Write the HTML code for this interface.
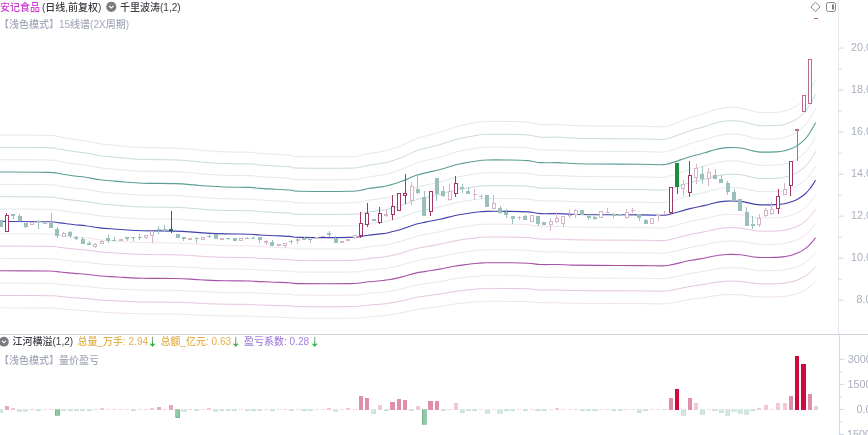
<!DOCTYPE html>
<html><head><meta charset="utf-8"><style>
html,body{margin:0;padding:0;background:#fff;width:868px;height:435px;overflow:hidden;position:relative}
.t{position:absolute;white-space:nowrap;font-family:"Liberation Sans","Noto Sans CJK SC",sans-serif;font-size:10px;line-height:1;font-weight:500}
.ar{position:absolute;white-space:nowrap;font-family:"Noto Sans CJK SC",sans-serif;font-weight:bold;font-size:11px;line-height:1;background:linear-gradient(#9c9ab2 0%,#8aa29a 35%,#2aa83c 62%);-webkit-background-clip:text;background-clip:text;color:transparent}
.ax{position:absolute;white-space:nowrap;font-family:"Liberation Sans",sans-serif;font-size:10.8px;color:#a9afbd;line-height:1}
</style></head><body>
<svg width="868" height="435" viewBox="0 0 868 435" style="position:absolute;left:0;top:0">
<defs><linearGradient id="ag" x1="0" y1="0" x2="0" y2="1"><stop offset="0" stop-color="#9a98b0"/><stop offset="1" stop-color="#2aa83c"/></linearGradient></defs>
<path d="M0.00,134.98 C8.10,135.05 38.60,135.05 48.60,135.39 C58.60,135.73 55.72,136.33 60.00,137.01 C64.28,137.69 70.02,138.81 74.30,139.44 C78.58,140.07 81.42,140.07 85.70,140.79 C89.98,141.51 95.23,143.02 100.00,143.76 C104.77,144.50 110.30,144.84 114.30,145.25 C118.30,145.65 119.33,145.81 124.00,146.19 C128.67,146.57 133.78,147.22 142.30,147.54 C150.82,147.85 166.53,147.76 175.10,148.08 C183.67,148.39 188.45,148.98 193.70,149.43 C198.95,149.88 201.38,150.37 206.60,150.78 C211.82,151.18 217.77,151.61 225.00,151.86 C232.23,152.11 244.17,152.02 250.00,152.26 C255.83,152.51 255.83,153.01 260.00,153.34 C264.17,153.68 270.00,153.97 275.00,154.29 C280.00,154.60 285.83,154.85 290.00,155.23 C294.17,155.62 290.00,156.36 300.00,156.58 C310.00,156.81 339.77,156.81 350.00,156.58 C360.23,156.36 358.30,155.73 361.40,155.23 C364.50,154.74 365.02,154.25 368.60,153.62 C372.18,152.99 379.57,152.04 382.90,151.45 C386.23,150.87 385.52,151.07 388.60,150.10 C391.68,149.14 396.88,147.52 401.40,145.65 C405.92,143.78 411.65,140.52 415.70,138.90 C419.75,137.28 421.65,137.05 425.70,135.93 C429.75,134.80 435.23,133.59 440.00,132.15 C444.77,130.71 450.30,128.48 454.30,127.29 C458.30,126.10 460.05,125.83 464.00,125.00 C467.95,124.16 474.28,122.88 478.00,122.29 C481.72,121.71 481.35,121.62 486.30,121.48 C491.25,121.35 500.80,121.37 507.70,121.48 C514.60,121.60 522.22,121.66 527.70,122.16 C533.18,122.66 535.60,124.07 540.60,124.45 C545.60,124.84 552.47,124.30 557.70,124.45 C562.93,124.61 565.62,125.15 572.00,125.40 C578.38,125.65 584.67,125.80 596.00,125.94 C607.33,126.07 629.00,126.07 640.00,126.21 C651.00,126.34 657.00,126.91 662.00,126.75 C667.00,126.59 665.33,126.77 670.00,125.26 C674.67,123.76 684.17,119.69 690.00,117.71 C695.83,115.73 701.00,114.64 705.00,113.38 C709.00,112.12 710.43,111.11 714.00,110.14 C717.57,109.18 721.95,107.94 726.40,107.58 C730.85,107.22 735.45,107.20 740.70,107.99 C745.95,108.77 751.95,111.58 757.90,112.30 C763.85,113.02 771.88,112.53 776.40,112.30 C780.92,112.08 782.40,111.63 785.00,110.95 C787.60,110.28 789.83,109.29 792.00,108.25 C794.17,107.22 795.83,106.45 798.00,104.74 C800.17,103.03 803.00,100.36 805.00,97.99 C807.00,95.63 808.23,93.65 810.00,90.57 C811.77,87.49 814.67,81.35 815.60,79.50" fill="none" stroke="#dfeaec" stroke-width="1"/>
<path d="M0.00,147.33 C8.10,147.39 38.60,147.39 48.60,147.72 C58.60,148.05 55.72,148.63 60.00,149.28 C64.28,149.93 70.02,151.01 74.30,151.62 C78.58,152.23 81.42,152.23 85.70,152.92 C89.98,153.61 95.23,155.06 100.00,155.78 C104.77,156.50 110.30,156.82 114.30,157.21 C118.30,157.60 119.33,157.75 124.00,158.12 C128.67,158.49 133.78,159.12 142.30,159.42 C150.82,159.72 166.53,159.64 175.10,159.94 C183.67,160.24 188.45,160.81 193.70,161.24 C198.95,161.67 201.38,162.15 206.60,162.54 C211.82,162.93 217.77,163.34 225.00,163.58 C232.23,163.82 244.17,163.73 250.00,163.97 C255.83,164.21 255.83,164.68 260.00,165.01 C264.17,165.33 270.00,165.62 275.00,165.92 C280.00,166.22 285.83,166.46 290.00,166.83 C294.17,167.20 290.00,167.91 300.00,168.13 C310.00,168.35 339.77,168.35 350.00,168.13 C360.23,167.91 358.30,167.31 361.40,166.83 C364.50,166.35 365.02,165.88 368.60,165.27 C372.18,164.66 379.57,163.75 382.90,163.19 C386.23,162.63 385.52,162.82 388.60,161.89 C391.68,160.96 396.88,159.40 401.40,157.60 C405.92,155.80 411.65,152.66 415.70,151.10 C419.75,149.54 421.65,149.32 425.70,148.24 C429.75,147.16 435.23,145.99 440.00,144.60 C444.77,143.21 450.30,141.07 454.30,139.92 C458.30,138.77 460.05,138.51 464.00,137.71 C467.95,136.91 474.28,135.67 478.00,135.11 C481.72,134.55 481.35,134.46 486.30,134.33 C491.25,134.20 500.80,134.22 507.70,134.33 C514.60,134.44 522.22,134.50 527.70,134.98 C533.18,135.46 535.60,136.82 540.60,137.19 C545.60,137.56 552.47,137.04 557.70,137.19 C562.93,137.34 565.62,137.86 572.00,138.10 C578.38,138.34 584.67,138.49 596.00,138.62 C607.33,138.75 629.00,138.75 640.00,138.88 C651.00,139.01 657.00,139.55 662.00,139.40 C667.00,139.25 665.33,139.42 670.00,137.97 C674.67,136.52 684.17,132.60 690.00,130.69 C695.83,128.78 701.00,127.74 705.00,126.53 C709.00,125.32 710.43,124.34 714.00,123.41 C717.57,122.48 721.95,121.29 726.40,120.94 C730.85,120.59 735.45,120.57 740.70,121.33 C745.95,122.09 751.95,124.80 757.90,125.49 C763.85,126.18 771.88,125.71 776.40,125.49 C780.92,125.27 782.40,124.84 785.00,124.19 C787.60,123.54 789.83,122.59 792.00,121.59 C794.17,120.59 795.83,119.86 798.00,118.21 C800.17,116.56 803.00,113.98 805.00,111.71 C807.00,109.43 808.23,107.53 810.00,104.56 C811.77,101.59 814.67,95.68 815.60,93.90" fill="none" stroke="#c8d9dc" stroke-width="1"/>
<path d="M0.00,159.68 C8.10,159.74 38.60,159.74 48.60,160.05 C58.60,160.36 55.72,160.93 60.00,161.55 C64.28,162.18 70.02,163.22 74.30,163.80 C78.58,164.38 81.42,164.38 85.70,165.05 C89.98,165.72 95.23,167.11 100.00,167.80 C104.77,168.49 110.30,168.80 114.30,169.18 C118.30,169.55 119.33,169.70 124.00,170.05 C128.67,170.40 133.78,171.01 142.30,171.30 C150.82,171.59 166.53,171.51 175.10,171.80 C183.67,172.09 188.45,172.63 193.70,173.05 C198.95,173.47 201.38,173.92 206.60,174.30 C211.82,174.67 217.77,175.07 225.00,175.30 C232.23,175.53 244.17,175.45 250.00,175.67 C255.83,175.90 255.83,176.36 260.00,176.67 C264.17,176.99 270.00,177.26 275.00,177.55 C280.00,177.84 285.83,178.07 290.00,178.43 C294.17,178.78 290.00,179.47 300.00,179.68 C310.00,179.88 339.77,179.88 350.00,179.68 C360.23,179.47 358.30,178.88 361.40,178.43 C364.50,177.97 365.02,177.51 368.60,176.93 C372.18,176.34 379.57,175.47 382.90,174.92 C386.23,174.38 385.52,174.57 388.60,173.68 C391.68,172.78 396.88,171.28 401.40,169.55 C405.92,167.82 411.65,164.80 415.70,163.30 C419.75,161.80 421.65,161.59 425.70,160.55 C429.75,159.51 435.23,158.38 440.00,157.05 C444.77,155.72 450.30,153.65 454.30,152.55 C458.30,151.45 460.05,151.20 464.00,150.42 C467.95,149.65 474.28,148.47 478.00,147.92 C481.72,147.38 481.35,147.30 486.30,147.17 C491.25,147.05 500.80,147.07 507.70,147.17 C514.60,147.28 522.22,147.34 527.70,147.80 C533.18,148.26 535.60,149.57 540.60,149.93 C545.60,150.28 552.47,149.78 557.70,149.93 C562.93,150.07 565.62,150.57 572.00,150.80 C578.38,151.03 584.67,151.17 596.00,151.30 C607.33,151.42 629.00,151.43 640.00,151.55 C651.00,151.68 657.00,152.20 662.00,152.05 C667.00,151.90 665.33,152.07 670.00,150.67 C674.67,149.28 684.17,145.51 690.00,143.68 C695.83,141.84 701.00,140.84 705.00,139.68 C709.00,138.51 710.43,137.57 714.00,136.68 C717.57,135.78 721.95,134.63 726.40,134.30 C730.85,133.97 735.45,133.95 740.70,134.68 C745.95,135.40 751.95,138.01 757.90,138.67 C763.85,139.34 771.88,138.88 776.40,138.67 C780.92,138.47 782.40,138.05 785.00,137.42 C787.60,136.80 789.83,135.88 792.00,134.92 C794.17,133.97 795.83,133.26 798.00,131.68 C800.17,130.09 803.00,127.61 805.00,125.42 C807.00,123.24 808.23,121.40 810.00,118.55 C811.77,115.70 814.67,110.01 815.60,108.30" fill="none" stroke="#dfeaec" stroke-width="1"/>
<path d="M0.00,184.37 C8.10,184.42 38.60,184.42 48.60,184.71 C58.60,185.00 55.72,185.52 60.00,186.09 C64.28,186.66 70.02,187.62 74.30,188.16 C78.58,188.70 81.42,188.70 85.70,189.31 C89.98,189.92 95.23,191.21 100.00,191.84 C104.77,192.47 110.30,192.76 114.30,193.11 C118.30,193.45 119.33,193.58 124.00,193.91 C128.67,194.24 133.78,194.79 142.30,195.06 C150.82,195.33 166.53,195.25 175.10,195.52 C183.67,195.79 188.45,196.29 193.70,196.67 C198.95,197.05 201.38,197.47 206.60,197.82 C211.82,198.16 217.77,198.53 225.00,198.74 C232.23,198.95 244.17,198.87 250.00,199.08 C255.83,199.30 255.83,199.72 260.00,200.00 C264.17,200.29 270.00,200.54 275.00,200.81 C280.00,201.08 285.83,201.29 290.00,201.62 C294.17,201.94 290.00,202.57 300.00,202.77 C310.00,202.96 339.77,202.96 350.00,202.77 C360.23,202.57 358.30,202.04 361.40,201.62 C364.50,201.19 365.02,200.77 368.60,200.24 C372.18,199.70 379.57,198.89 382.90,198.40 C386.23,197.90 385.52,198.07 388.60,197.25 C391.68,196.42 396.88,195.04 401.40,193.45 C405.92,191.86 411.65,189.08 415.70,187.70 C419.75,186.32 421.65,186.13 425.70,185.17 C429.75,184.21 435.23,183.18 440.00,181.95 C444.77,180.72 450.30,178.83 454.30,177.81 C458.30,176.79 460.05,176.56 464.00,175.86 C467.95,175.15 474.28,174.05 478.00,173.56 C481.72,173.06 481.35,172.98 486.30,172.87 C491.25,172.75 500.80,172.77 507.70,172.87 C514.60,172.96 522.22,173.02 527.70,173.44 C533.18,173.86 535.60,175.07 540.60,175.40 C545.60,175.72 552.47,175.26 557.70,175.40 C562.93,175.53 565.62,175.99 572.00,176.20 C578.38,176.41 584.67,176.55 596.00,176.66 C607.33,176.77 629.00,176.78 640.00,176.89 C651.00,177.01 657.00,177.48 662.00,177.35 C667.00,177.22 665.33,177.37 670.00,176.08 C674.67,174.80 684.17,171.33 690.00,169.65 C695.83,167.96 701.00,167.04 705.00,165.97 C709.00,164.89 710.43,164.03 714.00,163.21 C717.57,162.38 721.95,161.33 726.40,161.02 C730.85,160.71 735.45,160.69 740.70,161.37 C745.95,162.04 751.95,164.43 757.90,165.04 C763.85,165.66 771.88,165.24 776.40,165.04 C780.92,164.85 782.40,164.47 785.00,163.90 C787.60,163.32 789.83,162.48 792.00,161.59 C794.17,160.71 795.83,160.06 798.00,158.61 C800.17,157.15 803.00,154.87 805.00,152.86 C807.00,150.84 808.23,149.16 810.00,146.53 C811.77,143.90 814.67,138.67 815.60,137.10" fill="none" stroke="#dfeaec" stroke-width="1"/>
<path d="M0.00,196.71 C8.10,196.76 38.60,196.76 48.60,197.04 C58.60,197.31 55.72,197.81 60.00,198.36 C64.28,198.91 70.02,199.83 74.30,200.34 C78.58,200.85 81.42,200.85 85.70,201.44 C89.98,202.03 95.23,203.25 100.00,203.86 C104.77,204.47 110.30,204.74 114.30,205.07 C118.30,205.40 119.33,205.53 124.00,205.84 C128.67,206.15 133.78,206.68 142.30,206.94 C150.82,207.20 166.53,207.12 175.10,207.38 C183.67,207.64 188.45,208.11 193.70,208.48 C198.95,208.85 201.38,209.25 206.60,209.58 C211.82,209.91 217.77,210.26 225.00,210.46 C232.23,210.66 244.17,210.59 250.00,210.79 C255.83,210.99 255.83,211.39 260.00,211.67 C264.17,211.94 270.00,212.18 275.00,212.44 C280.00,212.70 285.83,212.90 290.00,213.21 C294.17,213.52 290.00,214.13 300.00,214.31 C310.00,214.49 339.77,214.49 350.00,214.31 C360.23,214.13 358.30,213.61 361.40,213.21 C364.50,212.81 365.02,212.40 368.60,211.89 C372.18,211.38 379.57,210.61 382.90,210.13 C386.23,209.65 385.52,209.82 388.60,209.03 C391.68,208.24 396.88,206.92 401.40,205.40 C405.92,203.88 411.65,201.22 415.70,199.90 C419.75,198.58 421.65,198.40 425.70,197.48 C429.75,196.56 435.23,195.57 440.00,194.40 C444.77,193.23 450.30,191.41 454.30,190.44 C458.30,189.47 460.05,189.25 464.00,188.57 C467.95,187.89 474.28,186.85 478.00,186.37 C481.72,185.89 481.35,185.82 486.30,185.71 C491.25,185.60 500.80,185.62 507.70,185.71 C514.60,185.80 522.22,185.86 527.70,186.26 C533.18,186.66 535.60,187.82 540.60,188.13 C545.60,188.44 552.47,188.00 557.70,188.13 C562.93,188.26 565.62,188.70 572.00,188.90 C578.38,189.10 584.67,189.23 596.00,189.34 C607.33,189.45 629.00,189.45 640.00,189.56 C651.00,189.67 657.00,190.13 662.00,190.00 C667.00,189.87 665.33,190.02 670.00,188.79 C674.67,187.56 684.17,184.24 690.00,182.63 C695.83,181.02 701.00,180.14 705.00,179.11 C709.00,178.08 710.43,177.26 714.00,176.47 C717.57,175.68 721.95,174.67 726.40,174.38 C730.85,174.09 735.45,174.07 740.70,174.71 C745.95,175.35 751.95,177.64 757.90,178.23 C763.85,178.82 771.88,178.41 776.40,178.23 C780.92,178.05 782.40,177.68 785.00,177.13 C787.60,176.58 789.83,175.77 792.00,174.93 C794.17,174.09 795.83,173.46 798.00,172.07 C800.17,170.68 803.00,168.49 805.00,166.57 C807.00,164.64 808.23,163.03 810.00,160.52 C811.77,158.01 814.67,153.00 815.60,151.50" fill="none" stroke="#c8d9dc" stroke-width="1"/>
<path d="M0.00,209.05 C8.10,209.11 38.60,209.11 48.60,209.37 C58.60,209.63 55.72,210.10 60.00,210.63 C64.28,211.16 70.02,212.03 74.30,212.52 C78.58,213.01 81.42,213.01 85.70,213.57 C89.98,214.13 95.23,215.30 100.00,215.88 C104.77,216.46 110.30,216.72 114.30,217.03 C118.30,217.35 119.33,217.47 124.00,217.77 C128.67,218.07 133.78,218.57 142.30,218.82 C150.82,219.06 166.53,219.00 175.10,219.24 C183.67,219.49 188.45,219.94 193.70,220.29 C198.95,220.64 201.38,221.02 206.60,221.34 C211.82,221.65 217.77,221.99 225.00,222.18 C232.23,222.37 244.17,222.30 250.00,222.49 C255.83,222.69 255.83,223.07 260.00,223.33 C264.17,223.60 270.00,223.82 275.00,224.07 C280.00,224.31 285.83,224.51 290.00,224.80 C294.17,225.10 290.00,225.68 300.00,225.85 C310.00,226.03 339.77,226.03 350.00,225.85 C360.23,225.68 358.30,225.19 361.40,224.80 C364.50,224.42 365.02,224.03 368.60,223.54 C372.18,223.05 379.57,222.32 382.90,221.86 C386.23,221.41 385.52,221.57 388.60,220.81 C391.68,220.06 396.88,218.80 401.40,217.35 C405.92,215.90 411.65,213.36 415.70,212.10 C419.75,210.84 421.65,210.66 425.70,209.79 C429.75,208.91 435.23,207.97 440.00,206.85 C444.77,205.73 450.30,204.00 454.30,203.07 C458.30,202.14 460.05,201.93 464.00,201.28 C467.95,200.64 474.28,199.64 478.00,199.18 C481.72,198.73 481.35,198.66 486.30,198.55 C491.25,198.45 500.80,198.47 507.70,198.55 C514.60,198.64 522.22,198.69 527.70,199.08 C533.18,199.47 535.60,200.57 540.60,200.87 C545.60,201.16 552.47,200.74 557.70,200.87 C562.93,200.99 565.62,201.41 572.00,201.60 C578.38,201.79 584.67,201.91 596.00,202.02 C607.33,202.12 629.00,202.12 640.00,202.23 C651.00,202.33 657.00,202.77 662.00,202.65 C667.00,202.53 665.33,202.67 670.00,201.49 C674.67,200.32 684.17,197.16 690.00,195.62 C695.83,194.08 701.00,193.23 705.00,192.25 C709.00,191.27 710.43,190.49 714.00,189.73 C717.57,188.98 721.95,188.02 726.40,187.74 C730.85,187.46 735.45,187.44 740.70,188.06 C745.95,188.67 751.95,190.85 757.90,191.41 C763.85,191.97 771.88,191.59 776.40,191.41 C780.92,191.24 782.40,190.89 785.00,190.36 C787.60,189.84 789.83,189.07 792.00,188.26 C794.17,187.46 795.83,186.86 798.00,185.53 C800.17,184.21 803.00,182.12 805.00,180.28 C807.00,178.45 808.23,176.91 810.00,174.51 C811.77,172.11 814.67,167.34 815.60,165.90" fill="none" stroke="#dfeaec" stroke-width="1"/>
<path d="M0.00,233.75 C8.10,233.79 38.60,233.79 48.60,234.03 C58.60,234.27 55.72,234.70 60.00,235.17 C64.28,235.65 70.02,236.44 74.30,236.88 C78.58,237.32 81.42,237.32 85.70,237.83 C89.98,238.34 95.23,239.40 100.00,239.92 C104.77,240.44 110.30,240.68 114.30,240.97 C118.30,241.25 119.33,241.36 124.00,241.63 C128.67,241.90 133.78,242.36 142.30,242.58 C150.82,242.80 166.53,242.74 175.10,242.96 C183.67,243.18 188.45,243.59 193.70,243.91 C198.95,244.23 201.38,244.58 206.60,244.86 C211.82,245.15 217.77,245.45 225.00,245.62 C232.23,245.79 244.17,245.73 250.00,245.91 C255.83,246.08 255.83,246.43 260.00,246.66 C264.17,246.90 270.00,247.11 275.00,247.33 C280.00,247.55 285.83,247.73 290.00,248.00 C294.17,248.26 290.00,248.79 300.00,248.94 C310.00,249.10 339.77,249.10 350.00,248.94 C360.23,248.79 358.30,248.34 361.40,248.00 C364.50,247.65 365.02,247.30 368.60,246.86 C372.18,246.41 379.57,245.75 382.90,245.34 C386.23,244.92 385.52,245.07 388.60,244.38 C391.68,243.70 396.88,242.56 401.40,241.25 C405.92,239.94 411.65,237.64 415.70,236.50 C419.75,235.36 421.65,235.20 425.70,234.41 C429.75,233.62 435.23,232.76 440.00,231.75 C444.77,230.74 450.30,229.17 454.30,228.33 C458.30,227.49 460.05,227.30 464.00,226.72 C467.95,226.13 474.28,225.23 478.00,224.81 C481.72,224.40 481.35,224.34 486.30,224.25 C491.25,224.15 500.80,224.17 507.70,224.25 C514.60,224.32 522.22,224.37 527.70,224.72 C533.18,225.07 535.60,226.07 540.60,226.33 C545.60,226.60 552.47,226.22 557.70,226.33 C562.93,226.45 565.62,226.83 572.00,227.00 C578.38,227.17 584.67,227.29 596.00,227.38 C607.33,227.48 629.00,227.48 640.00,227.57 C651.00,227.67 657.00,228.06 662.00,227.95 C667.00,227.84 665.33,227.97 670.00,226.90 C674.67,225.84 684.17,222.98 690.00,221.59 C695.83,220.19 701.00,219.43 705.00,218.54 C709.00,217.66 710.43,216.95 714.00,216.27 C717.57,215.58 721.95,214.71 726.40,214.46 C730.85,214.21 735.45,214.19 740.70,214.75 C745.95,215.30 751.95,217.28 757.90,217.78 C763.85,218.29 771.88,217.94 776.40,217.78 C780.92,217.63 782.40,217.31 785.00,216.84 C787.60,216.36 789.83,215.66 792.00,214.94 C794.17,214.21 795.83,213.67 798.00,212.47 C800.17,211.26 803.00,209.38 805.00,207.72 C807.00,206.05 808.23,204.66 810.00,202.49 C811.77,200.32 814.67,196.00 815.60,194.70" fill="none" stroke="#f1e2ef" stroke-width="1"/>
<path d="M0.00,246.09 C8.10,246.13 38.60,246.14 48.60,246.36 C58.60,246.59 55.72,246.99 60.00,247.44 C64.28,247.89 70.02,248.64 74.30,249.06 C78.58,249.48 81.42,249.48 85.70,249.96 C89.98,250.44 95.23,251.45 100.00,251.94 C104.77,252.44 110.30,252.66 114.30,252.93 C118.30,253.20 119.33,253.30 124.00,253.56 C128.67,253.81 133.78,254.25 142.30,254.46 C150.82,254.67 166.53,254.61 175.10,254.82 C183.67,255.03 188.45,255.42 193.70,255.72 C198.95,256.02 201.38,256.35 206.60,256.62 C211.82,256.89 217.77,257.18 225.00,257.34 C232.23,257.50 244.17,257.44 250.00,257.61 C255.83,257.77 255.83,258.10 260.00,258.33 C264.17,258.56 270.00,258.75 275.00,258.96 C280.00,259.17 285.83,259.34 290.00,259.59 C294.17,259.85 290.00,260.34 300.00,260.49 C310.00,260.64 339.77,260.64 350.00,260.49 C360.23,260.34 358.30,259.92 361.40,259.59 C364.50,259.26 365.02,258.93 368.60,258.51 C372.18,258.09 379.57,257.46 382.90,257.07 C386.23,256.68 385.52,256.81 388.60,256.17 C391.68,255.53 396.88,254.44 401.40,253.20 C405.92,251.95 411.65,249.78 415.70,248.70 C419.75,247.62 421.65,247.47 425.70,246.72 C429.75,245.97 435.23,245.16 440.00,244.20 C444.77,243.24 450.30,241.75 454.30,240.96 C458.30,240.16 460.05,239.98 464.00,239.43 C467.95,238.87 474.28,238.02 478.00,237.63 C481.72,237.24 481.35,237.18 486.30,237.09 C491.25,237.00 500.80,237.02 507.70,237.09 C514.60,237.16 522.22,237.21 527.70,237.54 C533.18,237.87 535.60,238.81 540.60,239.07 C545.60,239.32 552.47,238.96 557.70,239.07 C562.93,239.18 565.62,239.54 572.00,239.70 C578.38,239.87 584.67,239.97 596.00,240.06 C607.33,240.15 629.00,240.15 640.00,240.24 C651.00,240.33 657.00,240.71 662.00,240.60 C667.00,240.50 665.33,240.61 670.00,239.61 C674.67,238.60 684.17,235.89 690.00,234.57 C695.83,233.25 701.00,232.53 705.00,231.69 C709.00,230.85 710.43,230.18 714.00,229.53 C717.57,228.88 721.95,228.06 726.40,227.82 C730.85,227.58 735.45,227.57 740.70,228.09 C745.95,228.62 751.95,230.49 757.90,230.97 C763.85,231.45 771.88,231.12 776.40,230.97 C780.92,230.82 782.40,230.52 785.00,230.07 C787.60,229.62 789.83,228.96 792.00,228.27 C794.17,227.58 795.83,227.07 798.00,225.93 C800.17,224.79 803.00,223.00 805.00,221.43 C807.00,219.86 808.23,218.53 810.00,216.48 C811.77,214.42 814.67,210.33 815.60,209.10" fill="none" stroke="#e6c4e0" stroke-width="1"/>
<path d="M0.00,258.44 C8.10,258.48 38.60,258.48 48.60,258.69 C58.60,258.90 55.72,259.29 60.00,259.71 C64.28,260.14 70.02,260.84 74.30,261.24 C78.58,261.64 81.42,261.64 85.70,262.09 C89.98,262.54 95.23,263.49 100.00,263.96 C104.77,264.43 110.30,264.64 114.30,264.90 C118.30,265.15 119.33,265.25 124.00,265.49 C128.67,265.73 133.78,266.14 142.30,266.34 C150.82,266.54 166.53,266.48 175.10,266.68 C183.67,266.88 188.45,267.25 193.70,267.53 C198.95,267.81 201.38,268.12 206.60,268.38 C211.82,268.63 217.77,268.90 225.00,269.06 C232.23,269.22 244.17,269.16 250.00,269.31 C255.83,269.47 255.83,269.78 260.00,270.00 C264.17,270.21 270.00,270.39 275.00,270.59 C280.00,270.79 285.83,270.94 290.00,271.19 C294.17,271.43 290.00,271.89 300.00,272.04 C310.00,272.18 339.77,272.18 350.00,272.04 C360.23,271.89 358.30,271.50 361.40,271.19 C364.50,270.87 365.02,270.56 368.60,270.17 C372.18,269.77 379.57,269.17 382.90,268.81 C386.23,268.44 385.52,268.56 388.60,267.96 C391.68,267.35 396.88,266.33 401.40,265.15 C405.92,263.97 411.65,261.92 415.70,260.90 C419.75,259.88 421.65,259.74 425.70,259.03 C429.75,258.32 435.23,257.56 440.00,256.65 C444.77,255.74 450.30,254.34 454.30,253.59 C458.30,252.84 460.05,252.67 464.00,252.14 C467.95,251.62 474.28,250.81 478.00,250.44 C481.72,250.08 481.35,250.02 486.30,249.94 C491.25,249.85 500.80,249.86 507.70,249.94 C514.60,250.01 522.22,250.05 527.70,250.36 C533.18,250.67 535.60,251.56 540.60,251.80 C545.60,252.05 552.47,251.71 557.70,251.80 C562.93,251.90 565.62,252.24 572.00,252.40 C578.38,252.56 584.67,252.65 596.00,252.74 C607.33,252.82 629.00,252.82 640.00,252.91 C651.00,253.00 657.00,253.35 662.00,253.25 C667.00,253.15 665.33,253.26 670.00,252.31 C674.67,251.37 684.17,248.80 690.00,247.56 C695.83,246.31 701.00,245.63 705.00,244.83 C709.00,244.04 710.43,243.40 714.00,242.79 C717.57,242.19 721.95,241.41 726.40,241.18 C730.85,240.95 735.45,240.94 740.70,241.44 C745.95,241.93 751.95,243.70 757.90,244.15 C763.85,244.61 771.88,244.30 776.40,244.15 C780.92,244.01 782.40,243.73 785.00,243.30 C787.60,242.88 789.83,242.26 792.00,241.60 C794.17,240.95 795.83,240.47 798.00,239.40 C800.17,238.32 803.00,236.63 805.00,235.14 C807.00,233.66 808.23,232.41 810.00,230.47 C811.77,228.53 814.67,224.66 815.60,223.50" fill="none" stroke="#f1e2ef" stroke-width="1"/>
<path d="M0.00,283.12 C8.10,283.16 38.60,283.16 48.60,283.35 C58.60,283.54 55.72,283.88 60.00,284.25 C64.28,284.62 70.02,285.25 74.30,285.60 C78.58,285.95 81.42,285.95 85.70,286.35 C89.98,286.75 95.23,287.59 100.00,288.00 C104.77,288.41 110.30,288.60 114.30,288.83 C118.30,289.05 119.33,289.14 124.00,289.35 C128.67,289.56 133.78,289.93 142.30,290.10 C150.82,290.28 166.53,290.23 175.10,290.40 C183.67,290.58 188.45,290.90 193.70,291.15 C198.95,291.40 201.38,291.68 206.60,291.90 C211.82,292.13 217.77,292.36 225.00,292.50 C232.23,292.64 244.17,292.59 250.00,292.73 C255.83,292.86 255.83,293.14 260.00,293.32 C264.17,293.51 270.00,293.68 275.00,293.85 C280.00,294.03 285.83,294.16 290.00,294.38 C294.17,294.59 290.00,295.00 300.00,295.12 C310.00,295.25 339.77,295.25 350.00,295.12 C360.23,295.00 358.30,294.65 361.40,294.38 C364.50,294.10 365.02,293.83 368.60,293.48 C372.18,293.12 379.57,292.60 382.90,292.28 C386.23,291.95 385.52,292.06 388.60,291.53 C391.68,290.99 396.88,290.09 401.40,289.05 C405.92,288.01 411.65,286.20 415.70,285.30 C419.75,284.40 421.65,284.27 425.70,283.65 C429.75,283.02 435.23,282.35 440.00,281.55 C444.77,280.75 450.30,279.51 454.30,278.85 C458.30,278.19 460.05,278.04 464.00,277.58 C467.95,277.11 474.28,276.40 478.00,276.08 C481.72,275.75 481.35,275.70 486.30,275.63 C491.25,275.55 500.80,275.56 507.70,275.63 C514.60,275.69 522.22,275.73 527.70,276.00 C533.18,276.27 535.60,277.06 540.60,277.27 C545.60,277.49 552.47,277.19 557.70,277.27 C562.93,277.36 565.62,277.66 572.00,277.80 C578.38,277.94 584.67,278.03 596.00,278.10 C607.33,278.18 629.00,278.18 640.00,278.25 C651.00,278.33 657.00,278.64 662.00,278.55 C667.00,278.46 665.33,278.56 670.00,277.72 C674.67,276.89 684.17,274.62 690.00,273.53 C695.83,272.43 701.00,271.82 705.00,271.12 C709.00,270.43 710.43,269.86 714.00,269.33 C717.57,268.79 721.95,268.10 726.40,267.90 C730.85,267.70 735.45,267.69 740.70,268.13 C745.95,268.56 751.95,270.13 757.90,270.53 C763.85,270.93 771.88,270.65 776.40,270.53 C780.92,270.40 782.40,270.15 785.00,269.78 C787.60,269.40 789.83,268.85 792.00,268.27 C794.17,267.70 795.83,267.28 798.00,266.33 C800.17,265.38 803.00,263.89 805.00,262.57 C807.00,261.26 808.23,260.16 810.00,258.45 C811.77,256.74 814.67,253.33 815.60,252.30" fill="none" stroke="#f1e2ef" stroke-width="1"/>
<path d="M0.00,295.47 C8.10,295.50 38.60,295.50 48.60,295.68 C58.60,295.86 55.72,296.17 60.00,296.52 C64.28,296.87 70.02,297.45 74.30,297.78 C78.58,298.11 81.42,298.11 85.70,298.48 C89.98,298.85 95.23,299.64 100.00,300.02 C104.77,300.41 110.30,300.58 114.30,300.79 C118.30,301.00 119.33,301.08 124.00,301.28 C128.67,301.48 133.78,301.82 142.30,301.98 C150.82,302.14 166.53,302.10 175.10,302.26 C183.67,302.42 188.45,302.73 193.70,302.96 C198.95,303.19 201.38,303.45 206.60,303.66 C211.82,303.87 217.77,304.09 225.00,304.22 C232.23,304.35 244.17,304.30 250.00,304.43 C255.83,304.56 255.83,304.82 260.00,304.99 C264.17,305.17 270.00,305.32 275.00,305.48 C280.00,305.64 285.83,305.77 290.00,305.97 C294.17,306.17 290.00,306.55 300.00,306.67 C310.00,306.79 339.77,306.79 350.00,306.67 C360.23,306.55 358.30,306.23 361.40,305.97 C364.50,305.71 365.02,305.46 368.60,305.13 C372.18,304.80 379.57,304.31 382.90,304.01 C386.23,303.71 385.52,303.81 388.60,303.31 C391.68,302.81 396.88,301.97 401.40,301.00 C405.92,300.03 411.65,298.34 415.70,297.50 C419.75,296.66 421.65,296.54 425.70,295.96 C429.75,295.38 435.23,294.75 440.00,294.00 C444.77,293.25 450.30,292.10 454.30,291.48 C458.30,290.86 460.05,290.72 464.00,290.29 C467.95,289.86 474.28,289.19 478.00,288.89 C481.72,288.59 481.35,288.54 486.30,288.47 C491.25,288.40 500.80,288.41 507.70,288.47 C514.60,288.53 522.22,288.56 527.70,288.82 C533.18,289.08 535.60,289.81 540.60,290.01 C545.60,290.21 552.47,289.93 557.70,290.01 C562.93,290.09 565.62,290.37 572.00,290.50 C578.38,290.63 584.67,290.71 596.00,290.78 C607.33,290.85 629.00,290.85 640.00,290.92 C651.00,290.99 657.00,291.28 662.00,291.20 C667.00,291.12 665.33,291.21 670.00,290.43 C674.67,289.65 684.17,287.54 690.00,286.51 C695.83,285.48 701.00,284.92 705.00,284.27 C709.00,283.62 710.43,283.09 714.00,282.59 C717.57,282.09 721.95,281.45 726.40,281.26 C730.85,281.07 735.45,281.06 740.70,281.47 C745.95,281.88 751.95,283.34 757.90,283.71 C763.85,284.08 771.88,283.83 776.40,283.71 C780.92,283.59 782.40,283.36 785.00,283.01 C787.60,282.66 789.83,282.15 792.00,281.61 C794.17,281.07 795.83,280.68 798.00,279.79 C800.17,278.90 803.00,277.52 805.00,276.29 C807.00,275.06 808.23,274.04 810.00,272.44 C811.77,270.84 814.67,267.66 815.60,266.70" fill="none" stroke="#e6c4e0" stroke-width="1"/>
<path d="M0.00,307.82 C8.10,307.85 38.60,307.85 48.60,308.01 C58.60,308.17 55.72,308.47 60.00,308.79 C64.28,309.12 70.02,309.66 74.30,309.96 C78.58,310.26 81.42,310.26 85.70,310.61 C89.98,310.96 95.23,311.68 100.00,312.04 C104.77,312.40 110.30,312.56 114.30,312.76 C118.30,312.95 119.33,313.03 124.00,313.21 C128.67,313.39 133.78,313.71 142.30,313.86 C150.82,314.01 166.53,313.97 175.10,314.12 C183.67,314.27 188.45,314.55 193.70,314.77 C198.95,314.99 201.38,315.23 206.60,315.42 C211.82,315.62 217.77,315.82 225.00,315.94 C232.23,316.06 244.17,316.02 250.00,316.14 C255.83,316.25 255.83,316.49 260.00,316.66 C264.17,316.82 270.00,316.96 275.00,317.11 C280.00,317.26 285.83,317.38 290.00,317.57 C294.17,317.75 290.00,318.11 300.00,318.22 C310.00,318.32 339.77,318.32 350.00,318.22 C360.23,318.11 358.30,317.80 361.40,317.57 C364.50,317.33 365.02,317.09 368.60,316.79 C372.18,316.48 379.57,316.03 382.90,315.75 C386.23,315.46 385.52,315.56 388.60,315.10 C391.68,314.63 396.88,313.85 401.40,312.95 C405.92,312.05 411.65,310.48 415.70,309.70 C419.75,308.92 421.65,308.81 425.70,308.27 C429.75,307.73 435.23,307.14 440.00,306.45 C444.77,305.76 450.30,304.68 454.30,304.11 C458.30,303.54 460.05,303.41 464.00,303.01 C467.95,302.60 474.28,301.99 478.00,301.71 C481.72,301.42 481.35,301.38 486.30,301.32 C491.25,301.25 500.80,301.26 507.70,301.32 C514.60,301.37 522.22,301.40 527.70,301.64 C533.18,301.88 535.60,302.56 540.60,302.75 C545.60,302.93 552.47,302.67 557.70,302.75 C562.93,302.82 565.62,303.08 572.00,303.20 C578.38,303.32 584.67,303.40 596.00,303.46 C607.33,303.53 629.00,303.53 640.00,303.59 C651.00,303.66 657.00,303.93 662.00,303.85 C667.00,303.77 665.33,303.86 670.00,303.14 C674.67,302.41 684.17,300.45 690.00,299.50 C695.83,298.54 701.00,298.02 705.00,297.42 C709.00,296.81 710.43,296.32 714.00,295.86 C717.57,295.39 721.95,294.79 726.40,294.62 C730.85,294.45 735.45,294.44 740.70,294.82 C745.95,295.19 751.95,296.55 757.90,296.90 C763.85,297.24 771.88,297.00 776.40,296.90 C780.92,296.79 782.40,296.57 785.00,296.25 C787.60,295.92 789.83,295.44 792.00,294.95 C794.17,294.45 795.83,294.08 798.00,293.26 C800.17,292.43 803.00,291.14 805.00,290.01 C807.00,288.87 808.23,287.91 810.00,286.43 C811.77,284.95 814.67,281.99 815.60,281.10" fill="none" stroke="#f1e2ef" stroke-width="1"/>
<path d="M0.00,172.02 C8.10,172.08 38.60,172.08 48.60,172.38 C58.60,172.68 55.72,173.22 60.00,173.82 C64.28,174.42 70.02,175.42 74.30,175.98 C78.58,176.54 81.42,176.54 85.70,177.18 C89.98,177.82 95.23,179.16 100.00,179.82 C104.77,180.48 110.30,180.78 114.30,181.14 C118.30,181.50 119.33,181.64 124.00,181.98 C128.67,182.32 133.78,182.90 142.30,183.18 C150.82,183.46 166.53,183.38 175.10,183.66 C183.67,183.94 188.45,184.46 193.70,184.86 C198.95,185.26 201.38,185.70 206.60,186.06 C211.82,186.42 217.77,186.80 225.00,187.02 C232.23,187.24 244.17,187.16 250.00,187.38 C255.83,187.60 255.83,188.04 260.00,188.34 C264.17,188.64 270.00,188.90 275.00,189.18 C280.00,189.46 285.83,189.68 290.00,190.02 C294.17,190.36 290.00,191.02 300.00,191.22 C310.00,191.42 339.77,191.42 350.00,191.22 C360.23,191.02 358.30,190.46 361.40,190.02 C364.50,189.58 365.02,189.14 368.60,188.58 C372.18,188.02 379.57,187.18 382.90,186.66 C386.23,186.14 385.52,186.32 388.60,185.46 C391.68,184.60 396.88,183.16 401.40,181.50 C405.92,179.84 411.65,176.94 415.70,175.50 C419.75,174.06 421.65,173.86 425.70,172.86 C429.75,171.86 435.23,170.78 440.00,169.50 C444.77,168.22 450.30,166.24 454.30,165.18 C458.30,164.12 460.05,163.88 464.00,163.14 C467.95,162.40 474.28,161.26 478.00,160.74 C481.72,160.22 481.35,160.14 486.30,160.02 C491.25,159.90 500.80,159.92 507.70,160.02 C514.60,160.12 522.22,160.18 527.70,160.62 C533.18,161.06 535.60,162.32 540.60,162.66 C545.60,163.00 552.47,162.52 557.70,162.66 C562.93,162.80 565.62,163.28 572.00,163.50 C578.38,163.72 584.67,163.86 596.00,163.98 C607.33,164.10 629.00,164.10 640.00,164.22 C651.00,164.34 657.00,164.84 662.00,164.70 C667.00,164.56 665.33,164.72 670.00,163.38 C674.67,162.04 684.17,158.42 690.00,156.66 C695.83,154.90 701.00,153.94 705.00,152.82 C709.00,151.70 710.43,150.80 714.00,149.94 C717.57,149.08 721.95,147.98 726.40,147.66 C730.85,147.34 735.45,147.32 740.70,148.02 C745.95,148.72 751.95,151.22 757.90,151.86 C763.85,152.50 771.88,152.06 776.40,151.86 C780.92,151.66 782.40,151.26 785.00,150.66 C787.60,150.06 789.83,149.18 792.00,148.26 C794.17,147.34 795.83,146.66 798.00,145.14 C800.17,143.62 803.00,141.24 805.00,139.14 C807.00,137.04 808.23,135.28 810.00,132.54 C811.77,129.80 814.67,124.34 815.60,122.70" fill="none" stroke="#5a9e95" stroke-width="1.1"/>
<path d="M0.00,270.78 C8.10,270.82 38.60,270.82 48.60,271.02 C58.60,271.22 55.72,271.58 60.00,271.98 C64.28,272.38 70.02,273.05 74.30,273.42 C78.58,273.79 81.42,273.79 85.70,274.22 C89.98,274.65 95.23,275.54 100.00,275.98 C104.77,276.42 110.30,276.62 114.30,276.86 C118.30,277.10 119.33,277.19 124.00,277.42 C128.67,277.65 133.78,278.03 142.30,278.22 C150.82,278.41 166.53,278.35 175.10,278.54 C183.67,278.73 188.45,279.07 193.70,279.34 C198.95,279.61 201.38,279.90 206.60,280.14 C211.82,280.38 217.77,280.63 225.00,280.78 C232.23,280.93 244.17,280.87 250.00,281.02 C255.83,281.17 255.83,281.46 260.00,281.66 C264.17,281.86 270.00,282.03 275.00,282.22 C280.00,282.41 285.83,282.55 290.00,282.78 C294.17,283.01 290.00,283.45 300.00,283.58 C310.00,283.71 339.77,283.71 350.00,283.58 C360.23,283.45 358.30,283.07 361.40,282.78 C364.50,282.49 365.02,282.19 368.60,281.82 C372.18,281.45 379.57,280.89 382.90,280.54 C386.23,280.19 385.52,280.31 388.60,279.74 C391.68,279.17 396.88,278.21 401.40,277.10 C405.92,275.99 411.65,274.06 415.70,273.10 C419.75,272.14 421.65,272.01 425.70,271.34 C429.75,270.67 435.23,269.95 440.00,269.10 C444.77,268.25 450.30,266.93 454.30,266.22 C458.30,265.51 460.05,265.35 464.00,264.86 C467.95,264.37 474.28,263.61 478.00,263.26 C481.72,262.91 481.35,262.86 486.30,262.78 C491.25,262.70 500.80,262.71 507.70,262.78 C514.60,262.85 522.22,262.89 527.70,263.18 C533.18,263.47 535.60,264.31 540.60,264.54 C545.60,264.77 552.47,264.45 557.70,264.54 C562.93,264.63 565.62,264.95 572.00,265.10 C578.38,265.25 584.67,265.34 596.00,265.42 C607.33,265.50 629.00,265.50 640.00,265.58 C651.00,265.66 657.00,265.99 662.00,265.90 C667.00,265.81 665.33,265.91 670.00,265.02 C674.67,264.13 684.17,261.71 690.00,260.54 C695.83,259.37 701.00,258.73 705.00,257.98 C709.00,257.23 710.43,256.63 714.00,256.06 C717.57,255.49 721.95,254.75 726.40,254.54 C730.85,254.33 735.45,254.31 740.70,254.78 C745.95,255.25 751.95,256.91 757.90,257.34 C763.85,257.77 771.88,257.47 776.40,257.34 C780.92,257.21 782.40,256.94 785.00,256.54 C787.60,256.14 789.83,255.55 792.00,254.94 C794.17,254.33 795.83,253.87 798.00,252.86 C800.17,251.85 803.00,250.26 805.00,248.86 C807.00,247.46 808.23,246.29 810.00,244.46 C811.77,242.63 814.67,238.99 815.60,237.90" fill="none" stroke="#a652a9" stroke-width="1.1"/>
<path d="M0.00,221.40 C8.10,221.45 38.60,221.45 48.60,221.70 C58.60,221.95 55.72,222.40 60.00,222.90 C64.28,223.40 70.02,224.23 74.30,224.70 C78.58,225.17 81.42,225.17 85.70,225.70 C89.98,226.23 95.23,227.35 100.00,227.90 C104.77,228.45 110.30,228.70 114.30,229.00 C118.30,229.30 119.33,229.42 124.00,229.70 C128.67,229.98 133.78,230.47 142.30,230.70 C150.82,230.93 166.53,230.87 175.10,231.10 C183.67,231.33 188.45,231.77 193.70,232.10 C198.95,232.43 201.38,232.80 206.60,233.10 C211.82,233.40 217.77,233.72 225.00,233.90 C232.23,234.08 244.17,234.02 250.00,234.20 C255.83,234.38 255.83,234.75 260.00,235.00 C264.17,235.25 270.00,235.47 275.00,235.70 C280.00,235.93 285.83,236.12 290.00,236.40 C294.17,236.68 290.00,237.23 300.00,237.40 C310.00,237.57 339.77,237.57 350.00,237.40 C360.23,237.23 358.30,236.77 361.40,236.40 C364.50,236.03 365.02,235.67 368.60,235.20 C372.18,234.73 379.57,234.03 382.90,233.60 C386.23,233.17 385.52,233.32 388.60,232.60 C391.68,231.88 396.88,230.68 401.40,229.30 C405.92,227.92 411.65,225.50 415.70,224.30 C419.75,223.10 421.65,222.93 425.70,222.10 C429.75,221.27 435.23,220.37 440.00,219.30 C444.77,218.23 450.30,216.58 454.30,215.70 C458.30,214.82 460.05,214.62 464.00,214.00 C467.95,213.38 474.28,212.43 478.00,212.00 C481.72,211.57 481.35,211.50 486.30,211.40 C491.25,211.30 500.80,211.32 507.70,211.40 C514.60,211.48 522.22,211.53 527.70,211.90 C533.18,212.27 535.60,213.32 540.60,213.60 C545.60,213.88 552.47,213.48 557.70,213.60 C562.93,213.72 565.62,214.12 572.00,214.30 C578.38,214.48 584.67,214.60 596.00,214.70 C607.33,214.80 629.00,214.80 640.00,214.90 C651.00,215.00 657.00,215.42 662.00,215.30 C667.00,215.18 665.33,215.32 670.00,214.20 C674.67,213.08 684.17,210.07 690.00,208.60 C695.83,207.13 701.00,206.33 705.00,205.40 C709.00,204.47 710.43,203.72 714.00,203.00 C717.57,202.28 721.95,201.37 726.40,201.10 C730.85,200.83 735.45,200.82 740.70,201.40 C745.95,201.98 751.95,204.07 757.90,204.60 C763.85,205.13 771.88,204.77 776.40,204.60 C780.92,204.43 782.40,204.10 785.00,203.60 C787.60,203.10 789.83,202.37 792.00,201.60 C794.17,200.83 795.83,200.27 798.00,199.00 C800.17,197.73 803.00,195.75 805.00,194.00 C807.00,192.25 808.23,190.78 810.00,188.50 C811.77,186.22 814.67,181.67 815.60,180.30" fill="none" stroke="#4341ac" stroke-width="1.1"/>
<g shape-rendering="crispEdges">
<rect x="-1.42" y="219.80" width="4.00" height="7.60" fill="#9bc0bb"/>
<line x1="6.90" y1="212.90" x2="6.90" y2="215.30" stroke="#a5386a" stroke-width="1"/><rect x="5.40" y="215.80" width="3.00" height="15.20" fill="#fff" stroke="#a5386a" stroke-width="1"/>
<line x1="13.23" y1="215.50" x2="13.23" y2="218.60" stroke="#9bc0bb" stroke-width="1"/><rect x="11.23" y="213.60" width="4.00" height="1.90" fill="#9bc0bb"/>
<line x1="19.55" y1="214.30" x2="19.55" y2="216.20" stroke="#9bc0bb" stroke-width="1"/><line x1="19.55" y1="221.30" x2="19.55" y2="222.40" stroke="#9bc0bb" stroke-width="1"/><rect x="17.55" y="216.20" width="4.00" height="5.10" fill="#9bc0bb"/>
<line x1="25.87" y1="226.80" x2="25.87" y2="227.80" stroke="#9bc0bb" stroke-width="1"/><rect x="23.87" y="223.00" width="4.00" height="3.80" fill="#9bc0bb"/>
<rect x="30.69" y="222.90" width="3.00" height="1.90" fill="#fff" stroke="#d3b6c8" stroke-width="1"/>
<line x1="38.52" y1="220.00" x2="38.52" y2="220.70" stroke="#9bc0bb" stroke-width="1"/><line x1="38.52" y1="222.10" x2="38.52" y2="229.00" stroke="#9bc0bb" stroke-width="1"/><rect x="36.52" y="220.70" width="4.00" height="1.40" fill="#9bc0bb"/>
<line x1="42.84" y1="223.60" x2="46.84" y2="223.60" stroke="#9bc0bb" stroke-width="1.2"/>
<line x1="51.16" y1="213.30" x2="51.16" y2="222.90" stroke="#9bc0bb" stroke-width="1"/><rect x="49.16" y="222.90" width="4.00" height="4.70" fill="#9bc0bb"/>
<line x1="57.49" y1="226.80" x2="57.49" y2="228.50" stroke="#9bc0bb" stroke-width="1"/><line x1="57.49" y1="236.10" x2="57.49" y2="237.50" stroke="#9bc0bb" stroke-width="1"/><rect x="55.49" y="228.50" width="4.00" height="7.60" fill="#9bc0bb"/>
<line x1="63.81" y1="231.50" x2="63.81" y2="232.90" stroke="#d3b6c8" stroke-width="1"/><rect x="62.31" y="233.40" width="3.00" height="2.60" fill="#fff" stroke="#d3b6c8" stroke-width="1"/>
<line x1="70.13" y1="231.30" x2="70.13" y2="232.10" stroke="#9bc0bb" stroke-width="1"/><line x1="70.13" y1="236.10" x2="70.13" y2="237.50" stroke="#9bc0bb" stroke-width="1"/><rect x="68.13" y="232.10" width="4.00" height="4.00" fill="#9bc0bb"/>
<line x1="76.45" y1="236.00" x2="76.45" y2="236.70" stroke="#9bc0bb" stroke-width="1"/><line x1="76.45" y1="239.30" x2="76.45" y2="240.40" stroke="#9bc0bb" stroke-width="1"/><rect x="74.45" y="236.70" width="4.00" height="2.60" fill="#9bc0bb"/>
<line x1="82.78" y1="237.40" x2="82.78" y2="238.60" stroke="#9bc0bb" stroke-width="1"/><rect x="80.78" y="238.60" width="4.00" height="5.00" fill="#9bc0bb"/>
<line x1="89.10" y1="241.10" x2="89.10" y2="242.50" stroke="#9bc0bb" stroke-width="1"/><rect x="87.10" y="242.50" width="4.00" height="2.20" fill="#9bc0bb"/>
<line x1="95.42" y1="242.70" x2="95.42" y2="243.80" stroke="#d3b6c8" stroke-width="1"/><line x1="95.42" y1="246.70" x2="95.42" y2="247.60" stroke="#d3b6c8" stroke-width="1"/><rect x="93.92" y="244.30" width="3.00" height="1.90" fill="#fff" stroke="#d3b6c8" stroke-width="1"/>
<line x1="101.74" y1="239.50" x2="101.74" y2="240.50" stroke="#d3b6c8" stroke-width="1"/><line x1="101.74" y1="243.50" x2="101.74" y2="244.30" stroke="#d3b6c8" stroke-width="1"/><rect x="100.24" y="241.00" width="3.00" height="2.00" fill="#fff" stroke="#d3b6c8" stroke-width="1"/>
<line x1="108.07" y1="235.30" x2="108.07" y2="237.80" stroke="#9bc0bb" stroke-width="1"/><line x1="108.07" y1="241.10" x2="108.07" y2="243.20" stroke="#9bc0bb" stroke-width="1"/><rect x="106.07" y="237.80" width="4.00" height="3.30" fill="#9bc0bb"/>
<line x1="114.39" y1="237.10" x2="114.39" y2="240.40" stroke="#9bc0bb" stroke-width="1"/><line x1="112.39" y1="240.40" x2="116.39" y2="240.40" stroke="#9bc0bb" stroke-width="1.2"/>
<rect x="119.21" y="239.80" width="3.00" height="1.10" fill="#fff" stroke="#d3b6c8" stroke-width="1"/>
<line x1="127.04" y1="238.60" x2="127.04" y2="240.70" stroke="#9bc0bb" stroke-width="1"/><rect x="125.04" y="237.40" width="4.00" height="1.20" fill="#9bc0bb"/>
<line x1="133.36" y1="237.40" x2="133.36" y2="240.70" stroke="#9bc0bb" stroke-width="1"/><line x1="131.36" y1="237.40" x2="135.36" y2="237.40" stroke="#9bc0bb" stroke-width="1.2"/>
<line x1="139.68" y1="234.30" x2="139.68" y2="240.00" stroke="#9bc0bb" stroke-width="1"/><line x1="137.68" y1="237.40" x2="141.68" y2="237.40" stroke="#9bc0bb" stroke-width="1.2"/>
<line x1="146.00" y1="238.30" x2="146.00" y2="239.30" stroke="#d3b6c8" stroke-width="1"/><rect x="144.50" y="235.90" width="3.00" height="1.90" fill="#fff" stroke="#d3b6c8" stroke-width="1"/>
<line x1="152.33" y1="235.70" x2="152.33" y2="242.90" stroke="#d3b6c8" stroke-width="1"/><rect x="150.83" y="231.60" width="3.00" height="3.60" fill="#fff" stroke="#d3b6c8" stroke-width="1"/>
<line x1="158.65" y1="226.40" x2="158.65" y2="228.60" stroke="#9bc0bb" stroke-width="1"/><line x1="158.65" y1="230.00" x2="158.65" y2="234.30" stroke="#9bc0bb" stroke-width="1"/><rect x="156.65" y="228.60" width="4.00" height="1.40" fill="#9bc0bb"/>
<line x1="164.97" y1="224.60" x2="164.97" y2="231.70" stroke="#9bc0bb" stroke-width="1"/><line x1="162.97" y1="230.00" x2="166.97" y2="230.00" stroke="#9bc0bb" stroke-width="1.2"/>
<line x1="171.30" y1="210.70" x2="171.30" y2="229.30" stroke="#2e6e58" stroke-width="1"/><line x1="171.30" y1="231.10" x2="171.30" y2="232.60" stroke="#2e6e58" stroke-width="1"/><rect x="169.30" y="229.30" width="4.00" height="1.80" fill="#2e6e58"/>
<rect x="175.62" y="233.60" width="4.00" height="4.70" fill="#9bc0bb"/>
<line x1="183.94" y1="237.90" x2="183.94" y2="241.40" stroke="#9bc0bb" stroke-width="1"/><line x1="181.94" y1="237.90" x2="185.94" y2="237.90" stroke="#9bc0bb" stroke-width="1.2"/>
<rect x="188.76" y="238.40" width="3.00" height="1.40" fill="#fff" stroke="#d3b6c8" stroke-width="1"/>
<line x1="196.59" y1="236.90" x2="196.59" y2="237.90" stroke="#9bc0bb" stroke-width="1"/><line x1="196.59" y1="239.30" x2="196.59" y2="242.90" stroke="#9bc0bb" stroke-width="1"/><rect x="194.59" y="237.90" width="4.00" height="1.40" fill="#9bc0bb"/>
<rect x="201.41" y="237.40" width="3.00" height="2.10" fill="#fff" stroke="#d3b6c8" stroke-width="1"/>
<line x1="209.23" y1="234.30" x2="209.23" y2="235.70" stroke="#9bc0bb" stroke-width="1"/><line x1="209.23" y1="237.40" x2="209.23" y2="237.90" stroke="#9bc0bb" stroke-width="1"/><rect x="207.23" y="235.70" width="4.00" height="1.70" fill="#9bc0bb"/>
<rect x="213.56" y="234.30" width="4.00" height="4.60" fill="#9bc0bb"/>
<rect x="220.38" y="238.40" width="3.00" height="0.80" fill="#fff" stroke="#d3b6c8" stroke-width="1"/>
<line x1="228.20" y1="238.30" x2="228.20" y2="240.00" stroke="#9bc0bb" stroke-width="1"/><line x1="226.20" y1="238.30" x2="230.20" y2="238.30" stroke="#9bc0bb" stroke-width="1.2"/>
<rect x="232.52" y="237.90" width="4.00" height="3.50" fill="#9bc0bb"/>
<rect x="239.35" y="238.40" width="3.00" height="2.50" fill="#fff" stroke="#d3b6c8" stroke-width="1"/>
<line x1="247.17" y1="237.10" x2="247.17" y2="239.30" stroke="#9bc0bb" stroke-width="1"/><line x1="245.17" y1="238.30" x2="249.17" y2="238.30" stroke="#9bc0bb" stroke-width="1.2"/>
<line x1="253.49" y1="236.40" x2="253.49" y2="238.30" stroke="#9bc0bb" stroke-width="1"/><line x1="251.49" y1="238.30" x2="255.49" y2="238.30" stroke="#9bc0bb" stroke-width="1.2"/>
<line x1="259.81" y1="240.30" x2="259.81" y2="242.60" stroke="#9bc0bb" stroke-width="1"/><rect x="257.81" y="236.90" width="4.00" height="3.40" fill="#9bc0bb"/>
<line x1="266.14" y1="239.70" x2="266.14" y2="240.70" stroke="#d3b6c8" stroke-width="1"/><line x1="266.14" y1="242.90" x2="266.14" y2="245.00" stroke="#d3b6c8" stroke-width="1"/><rect x="264.64" y="241.20" width="3.00" height="1.20" fill="#fff" stroke="#d3b6c8" stroke-width="1"/>
<line x1="272.46" y1="239.70" x2="272.46" y2="241.70" stroke="#9bc0bb" stroke-width="1"/><rect x="270.46" y="241.70" width="4.00" height="4.30" fill="#9bc0bb"/>
<line x1="278.78" y1="244.00" x2="278.78" y2="246.40" stroke="#d3b6c8" stroke-width="1"/><line x1="276.78" y1="245.00" x2="280.78" y2="245.00" stroke="#d3b6c8" stroke-width="1.2"/>
<line x1="285.11" y1="246.00" x2="285.11" y2="247.90" stroke="#d3b6c8" stroke-width="1"/><rect x="283.61" y="243.60" width="3.00" height="1.90" fill="#fff" stroke="#d3b6c8" stroke-width="1"/>
<line x1="291.43" y1="240.30" x2="291.43" y2="244.00" stroke="#9bc0bb" stroke-width="1"/><line x1="289.43" y1="241.40" x2="293.43" y2="241.40" stroke="#9bc0bb" stroke-width="1.2"/>
<line x1="297.75" y1="237.90" x2="297.75" y2="238.90" stroke="#d3b6c8" stroke-width="1"/><line x1="297.75" y1="241.40" x2="297.75" y2="243.60" stroke="#d3b6c8" stroke-width="1"/><rect x="296.25" y="239.40" width="3.00" height="1.50" fill="#fff" stroke="#d3b6c8" stroke-width="1"/>
<line x1="304.07" y1="237.40" x2="304.07" y2="240.00" stroke="#9bc0bb" stroke-width="1"/><line x1="302.07" y1="238.90" x2="306.07" y2="238.90" stroke="#9bc0bb" stroke-width="1.2"/>
<line x1="310.40" y1="239.70" x2="310.40" y2="242.60" stroke="#9bc0bb" stroke-width="1"/><line x1="308.40" y1="239.70" x2="312.40" y2="239.70" stroke="#9bc0bb" stroke-width="1.2"/>
<rect x="315.22" y="237.40" width="3.00" height="1.00" fill="#fff" stroke="#d3b6c8" stroke-width="1"/>
<rect x="321.54" y="236.20" width="3.00" height="0.50" fill="#fff" stroke="#d3b6c8" stroke-width="1"/>
<line x1="329.37" y1="231.10" x2="329.37" y2="232.60" stroke="#9bc0bb" stroke-width="1"/><line x1="329.37" y1="235.00" x2="329.37" y2="236.90" stroke="#9bc0bb" stroke-width="1"/><rect x="327.37" y="232.60" width="4.00" height="2.40" fill="#9bc0bb"/>
<line x1="335.69" y1="235.70" x2="335.69" y2="237.90" stroke="#9bc0bb" stroke-width="1"/><rect x="333.69" y="237.90" width="4.00" height="4.70" fill="#9bc0bb"/>
<rect x="340.51" y="241.60" width="3.00" height="1.00" fill="#fff" stroke="#d3b6c8" stroke-width="1"/>
<rect x="346.83" y="239.00" width="3.00" height="1.90" fill="#fff" stroke="#d3b6c8" stroke-width="1"/>
<line x1="354.66" y1="237.60" x2="354.66" y2="238.60" stroke="#d3b6c8" stroke-width="1"/><rect x="353.16" y="235.90" width="3.00" height="1.20" fill="#fff" stroke="#d3b6c8" stroke-width="1"/>
<line x1="360.98" y1="212.10" x2="360.98" y2="222.90" stroke="#a5386a" stroke-width="1"/><line x1="360.98" y1="236.40" x2="360.98" y2="238.30" stroke="#a5386a" stroke-width="1"/><rect x="359.48" y="223.40" width="3.00" height="12.50" fill="#fff" stroke="#a5386a" stroke-width="1"/>
<line x1="367.30" y1="202.80" x2="367.30" y2="212.70" stroke="#a5386a" stroke-width="1"/><line x1="367.30" y1="224.60" x2="367.30" y2="227.20" stroke="#a5386a" stroke-width="1"/><rect x="365.80" y="213.20" width="3.00" height="10.90" fill="#fff" stroke="#a5386a" stroke-width="1"/>
<rect x="371.63" y="218.60" width="4.00" height="2.10" fill="#9bc0bb"/>
<line x1="379.95" y1="206.90" x2="379.95" y2="212.70" stroke="#a5386a" stroke-width="1"/><line x1="379.95" y1="222.90" x2="379.95" y2="224.20" stroke="#a5386a" stroke-width="1"/><rect x="378.45" y="213.20" width="3.00" height="9.20" fill="#fff" stroke="#a5386a" stroke-width="1"/>
<line x1="386.27" y1="209.50" x2="386.27" y2="214.20" stroke="#d3b6c8" stroke-width="1"/><line x1="386.27" y1="216.40" x2="386.27" y2="217.10" stroke="#d3b6c8" stroke-width="1"/><rect x="384.77" y="214.70" width="3.00" height="1.20" fill="#fff" stroke="#d3b6c8" stroke-width="1"/>
<line x1="392.59" y1="195.00" x2="392.59" y2="206.20" stroke="#a5386a" stroke-width="1"/><line x1="392.59" y1="214.80" x2="392.59" y2="219.80" stroke="#a5386a" stroke-width="1"/><rect x="391.09" y="206.70" width="3.00" height="7.60" fill="#fff" stroke="#a5386a" stroke-width="1"/>
<rect x="397.42" y="193.10" width="3.00" height="17.10" fill="#fff" stroke="#a5386a" stroke-width="1"/>
<line x1="405.24" y1="174.00" x2="405.24" y2="192.60" stroke="#a5386a" stroke-width="1"/><line x1="405.24" y1="195.70" x2="405.24" y2="203.60" stroke="#a5386a" stroke-width="1"/><rect x="403.74" y="193.10" width="3.00" height="2.10" fill="#fff" stroke="#a5386a" stroke-width="1"/>
<line x1="411.56" y1="182.10" x2="411.56" y2="186.40" stroke="#d3b6c8" stroke-width="1"/><line x1="411.56" y1="201.10" x2="411.56" y2="205.00" stroke="#d3b6c8" stroke-width="1"/><rect x="410.06" y="186.90" width="3.00" height="13.70" fill="#fff" stroke="#d3b6c8" stroke-width="1"/>
<line x1="417.88" y1="176.40" x2="417.88" y2="189.30" stroke="#9bc0bb" stroke-width="1"/><line x1="417.88" y1="192.90" x2="417.88" y2="193.60" stroke="#9bc0bb" stroke-width="1"/><rect x="415.88" y="189.30" width="4.00" height="3.60" fill="#9bc0bb"/>
<line x1="424.21" y1="191.40" x2="424.21" y2="197.10" stroke="#9bc0bb" stroke-width="1"/><rect x="422.21" y="197.10" width="4.00" height="19.30" fill="#9bc0bb"/>
<line x1="430.53" y1="211.70" x2="430.53" y2="216.40" stroke="#a5386a" stroke-width="1"/><rect x="429.03" y="191.60" width="3.00" height="19.60" fill="#fff" stroke="#a5386a" stroke-width="1"/>
<line x1="436.85" y1="194.30" x2="436.85" y2="201.40" stroke="#9bc0bb" stroke-width="1"/><rect x="434.85" y="177.90" width="4.00" height="16.40" fill="#9bc0bb"/>
<line x1="443.18" y1="186.40" x2="443.18" y2="191.40" stroke="#9bc0bb" stroke-width="1"/><line x1="443.18" y1="196.00" x2="443.18" y2="196.90" stroke="#9bc0bb" stroke-width="1"/><rect x="441.18" y="191.40" width="4.00" height="4.60" fill="#9bc0bb"/>
<line x1="449.50" y1="184.30" x2="449.50" y2="191.40" stroke="#d3b6c8" stroke-width="1"/><line x1="449.50" y1="199.70" x2="449.50" y2="201.10" stroke="#d3b6c8" stroke-width="1"/><rect x="448.00" y="191.90" width="3.00" height="7.30" fill="#fff" stroke="#d3b6c8" stroke-width="1"/>
<line x1="455.82" y1="176.00" x2="455.82" y2="182.60" stroke="#a5386a" stroke-width="1"/><line x1="455.82" y1="193.60" x2="455.82" y2="197.10" stroke="#a5386a" stroke-width="1"/><rect x="454.32" y="183.10" width="3.00" height="10.00" fill="#fff" stroke="#a5386a" stroke-width="1"/>
<line x1="462.14" y1="184.30" x2="462.14" y2="186.90" stroke="#9bc0bb" stroke-width="1"/><line x1="462.14" y1="189.30" x2="462.14" y2="192.90" stroke="#9bc0bb" stroke-width="1"/><rect x="460.14" y="186.90" width="4.00" height="2.40" fill="#9bc0bb"/>
<line x1="468.47" y1="187.10" x2="468.47" y2="191.40" stroke="#9bc0bb" stroke-width="1"/><line x1="468.47" y1="193.60" x2="468.47" y2="194.30" stroke="#9bc0bb" stroke-width="1"/><rect x="466.47" y="191.40" width="4.00" height="2.20" fill="#9bc0bb"/>
<line x1="474.79" y1="188.60" x2="474.79" y2="200.00" stroke="#d3b6c8" stroke-width="1"/><line x1="472.79" y1="194.60" x2="476.79" y2="194.60" stroke="#d3b6c8" stroke-width="1.2"/>
<line x1="481.11" y1="193.60" x2="481.11" y2="198.60" stroke="#d3b6c8" stroke-width="1"/><line x1="479.11" y1="196.70" x2="483.11" y2="196.70" stroke="#d3b6c8" stroke-width="1.2"/>
<rect x="485.44" y="195.30" width="4.00" height="11.80" fill="#9bc0bb"/>
<line x1="493.76" y1="195.30" x2="493.76" y2="203.30" stroke="#d3b6c8" stroke-width="1"/><rect x="492.26" y="203.80" width="3.00" height="4.30" fill="#fff" stroke="#d3b6c8" stroke-width="1"/>
<line x1="500.08" y1="205.70" x2="500.08" y2="208.10" stroke="#9bc0bb" stroke-width="1"/><line x1="500.08" y1="212.90" x2="500.08" y2="213.60" stroke="#9bc0bb" stroke-width="1"/><rect x="498.08" y="208.10" width="4.00" height="4.80" fill="#9bc0bb"/>
<line x1="506.40" y1="209.30" x2="506.40" y2="211.90" stroke="#9bc0bb" stroke-width="1"/><line x1="506.40" y1="215.30" x2="506.40" y2="218.10" stroke="#9bc0bb" stroke-width="1"/><rect x="504.40" y="211.90" width="4.00" height="3.40" fill="#9bc0bb"/>
<line x1="512.73" y1="218.60" x2="512.73" y2="224.30" stroke="#9bc0bb" stroke-width="1"/><rect x="510.73" y="215.70" width="4.00" height="2.90" fill="#9bc0bb"/>
<line x1="519.05" y1="215.70" x2="519.05" y2="219.60" stroke="#d3b6c8" stroke-width="1"/><line x1="517.05" y1="217.60" x2="521.05" y2="217.60" stroke="#d3b6c8" stroke-width="1.2"/>
<line x1="525.37" y1="215.30" x2="525.37" y2="216.40" stroke="#9bc0bb" stroke-width="1"/><rect x="523.37" y="216.40" width="4.00" height="4.00" fill="#9bc0bb"/>
<rect x="530.20" y="215.80" width="3.00" height="5.60" fill="#fff" stroke="#d3b6c8" stroke-width="1"/>
<line x1="538.02" y1="223.60" x2="538.02" y2="226.40" stroke="#9bc0bb" stroke-width="1"/><rect x="536.02" y="216.10" width="4.00" height="7.50" fill="#9bc0bb"/>
<rect x="542.34" y="221.90" width="4.00" height="2.80" fill="#9bc0bb"/>
<line x1="550.66" y1="217.60" x2="550.66" y2="221.00" stroke="#d3b6c8" stroke-width="1"/><line x1="550.66" y1="225.30" x2="550.66" y2="230.70" stroke="#d3b6c8" stroke-width="1"/><rect x="549.16" y="221.50" width="3.00" height="3.30" fill="#fff" stroke="#d3b6c8" stroke-width="1"/>
<line x1="556.99" y1="212.40" x2="556.99" y2="217.60" stroke="#d3b6c8" stroke-width="1"/><line x1="556.99" y1="221.90" x2="556.99" y2="222.90" stroke="#d3b6c8" stroke-width="1"/><rect x="555.49" y="218.10" width="3.00" height="3.30" fill="#fff" stroke="#d3b6c8" stroke-width="1"/>
<line x1="563.31" y1="224.30" x2="563.31" y2="226.70" stroke="#d3b6c8" stroke-width="1"/><rect x="561.81" y="216.60" width="3.00" height="7.20" fill="#fff" stroke="#d3b6c8" stroke-width="1"/>
<line x1="569.63" y1="210.00" x2="569.63" y2="218.10" stroke="#d3b6c8" stroke-width="1"/><line x1="567.63" y1="215.70" x2="571.63" y2="215.70" stroke="#d3b6c8" stroke-width="1.2"/>
<line x1="575.95" y1="208.60" x2="575.95" y2="210.00" stroke="#d3b6c8" stroke-width="1"/><line x1="575.95" y1="215.30" x2="575.95" y2="217.90" stroke="#d3b6c8" stroke-width="1"/><rect x="574.45" y="210.50" width="3.00" height="4.30" fill="#fff" stroke="#d3b6c8" stroke-width="1"/>
<rect x="580.28" y="210.00" width="4.00" height="5.30" fill="#9bc0bb"/>
<line x1="588.60" y1="213.60" x2="588.60" y2="216.40" stroke="#9bc0bb" stroke-width="1"/><line x1="588.60" y1="218.10" x2="588.60" y2="220.00" stroke="#9bc0bb" stroke-width="1"/><rect x="586.60" y="216.40" width="4.00" height="1.70" fill="#9bc0bb"/>
<line x1="594.92" y1="216.40" x2="594.92" y2="220.00" stroke="#9bc0bb" stroke-width="1"/><line x1="592.92" y1="217.90" x2="596.92" y2="217.90" stroke="#9bc0bb" stroke-width="1.2"/>
<rect x="599.75" y="211.90" width="3.00" height="5.90" fill="#fff" stroke="#d3b6c8" stroke-width="1"/>
<line x1="607.57" y1="207.90" x2="607.57" y2="212.90" stroke="#d3b6c8" stroke-width="1"/><line x1="605.57" y1="212.60" x2="609.57" y2="212.60" stroke="#d3b6c8" stroke-width="1.2"/>
<line x1="613.89" y1="212.90" x2="613.89" y2="214.00" stroke="#9bc0bb" stroke-width="1"/><line x1="613.89" y1="216.00" x2="613.89" y2="218.30" stroke="#9bc0bb" stroke-width="1"/><rect x="611.89" y="214.00" width="4.00" height="2.00" fill="#9bc0bb"/>
<rect x="618.21" y="214.30" width="4.00" height="2.10" fill="#9bc0bb"/>
<line x1="626.54" y1="209.30" x2="626.54" y2="212.10" stroke="#d3b6c8" stroke-width="1"/><line x1="626.54" y1="217.90" x2="626.54" y2="218.60" stroke="#d3b6c8" stroke-width="1"/><rect x="625.04" y="212.60" width="3.00" height="4.80" fill="#fff" stroke="#d3b6c8" stroke-width="1"/>
<line x1="632.86" y1="208.30" x2="632.86" y2="212.90" stroke="#d3b6c8" stroke-width="1"/><line x1="630.86" y1="210.70" x2="634.86" y2="210.70" stroke="#d3b6c8" stroke-width="1.2"/>
<line x1="639.18" y1="217.90" x2="639.18" y2="221.10" stroke="#9bc0bb" stroke-width="1"/><rect x="637.18" y="213.60" width="4.00" height="4.30" fill="#9bc0bb"/>
<line x1="645.51" y1="218.90" x2="645.51" y2="220.00" stroke="#9bc0bb" stroke-width="1"/><rect x="643.51" y="220.00" width="4.00" height="4.00" fill="#9bc0bb"/>
<rect x="650.33" y="218.40" width="3.00" height="4.70" fill="#fff" stroke="#d3b6c8" stroke-width="1"/>
<line x1="658.15" y1="215.70" x2="658.15" y2="221.40" stroke="#d3b6c8" stroke-width="1"/><line x1="656.15" y1="215.70" x2="660.15" y2="215.70" stroke="#d3b6c8" stroke-width="1.2"/>
<line x1="664.47" y1="211.10" x2="664.47" y2="213.60" stroke="#d3b6c8" stroke-width="1"/><rect x="662.97" y="214.10" width="3.00" height="0.80" fill="#fff" stroke="#d3b6c8" stroke-width="1"/>
<line x1="670.80" y1="212.60" x2="670.80" y2="214.30" stroke="#a5386a" stroke-width="1"/><rect x="669.30" y="187.40" width="3.00" height="24.70" fill="#fff" stroke="#a5386a" stroke-width="1"/>
<line x1="677.12" y1="187.10" x2="677.12" y2="193.60" stroke="#1d8c3e" stroke-width="1"/><rect x="675.12" y="163.10" width="4.00" height="24.00" fill="#1d8c3e"/>
<line x1="683.44" y1="180.00" x2="683.44" y2="183.60" stroke="#d3b6c8" stroke-width="1"/><line x1="683.44" y1="188.60" x2="683.44" y2="196.40" stroke="#d3b6c8" stroke-width="1"/><rect x="681.94" y="184.10" width="3.00" height="4.00" fill="#fff" stroke="#d3b6c8" stroke-width="1"/>
<line x1="689.77" y1="161.40" x2="689.77" y2="175.00" stroke="#a5386a" stroke-width="1"/><line x1="689.77" y1="193.10" x2="689.77" y2="197.40" stroke="#a5386a" stroke-width="1"/><rect x="688.27" y="175.50" width="3.00" height="17.10" fill="#fff" stroke="#a5386a" stroke-width="1"/>
<line x1="696.09" y1="163.60" x2="696.09" y2="168.30" stroke="#d3b6c8" stroke-width="1"/><line x1="696.09" y1="177.90" x2="696.09" y2="184.30" stroke="#d3b6c8" stroke-width="1"/><rect x="694.59" y="168.80" width="3.00" height="8.60" fill="#fff" stroke="#d3b6c8" stroke-width="1"/>
<line x1="702.41" y1="166.40" x2="702.41" y2="174.30" stroke="#9bc0bb" stroke-width="1"/><line x1="702.41" y1="178.60" x2="702.41" y2="184.30" stroke="#9bc0bb" stroke-width="1"/><rect x="700.41" y="174.30" width="4.00" height="4.30" fill="#9bc0bb"/>
<line x1="708.73" y1="167.90" x2="708.73" y2="171.70" stroke="#d3b6c8" stroke-width="1"/><line x1="708.73" y1="178.60" x2="708.73" y2="186.00" stroke="#d3b6c8" stroke-width="1"/><rect x="707.23" y="172.20" width="3.00" height="5.90" fill="#fff" stroke="#d3b6c8" stroke-width="1"/>
<line x1="715.06" y1="168.60" x2="715.06" y2="175.00" stroke="#9bc0bb" stroke-width="1"/><rect x="713.06" y="175.00" width="4.00" height="4.30" fill="#9bc0bb"/>
<line x1="721.38" y1="175.40" x2="721.38" y2="179.30" stroke="#9bc0bb" stroke-width="1"/><rect x="719.38" y="179.30" width="4.00" height="3.30" fill="#9bc0bb"/>
<line x1="727.70" y1="180.70" x2="727.70" y2="183.10" stroke="#9bc0bb" stroke-width="1"/><line x1="727.70" y1="192.10" x2="727.70" y2="195.00" stroke="#9bc0bb" stroke-width="1"/><rect x="725.70" y="183.10" width="4.00" height="9.00" fill="#9bc0bb"/>
<line x1="734.02" y1="188.60" x2="734.02" y2="192.10" stroke="#9bc0bb" stroke-width="1"/><rect x="732.02" y="192.10" width="4.00" height="8.60" fill="#9bc0bb"/>
<rect x="738.35" y="198.60" width="4.00" height="12.80" fill="#9bc0bb"/>
<line x1="746.67" y1="207.00" x2="746.67" y2="212.10" stroke="#9bc0bb" stroke-width="1"/><rect x="744.67" y="212.10" width="4.00" height="14.30" fill="#9bc0bb"/>
<line x1="752.99" y1="216.40" x2="752.99" y2="223.60" stroke="#9bc0bb" stroke-width="1"/><line x1="752.99" y1="225.70" x2="752.99" y2="229.30" stroke="#9bc0bb" stroke-width="1"/><rect x="750.99" y="223.60" width="4.00" height="2.10" fill="#9bc0bb"/>
<line x1="759.32" y1="214.30" x2="759.32" y2="217.90" stroke="#d3b6c8" stroke-width="1"/><line x1="759.32" y1="225.00" x2="759.32" y2="227.10" stroke="#d3b6c8" stroke-width="1"/><rect x="757.82" y="218.40" width="3.00" height="6.10" fill="#fff" stroke="#d3b6c8" stroke-width="1"/>
<line x1="765.64" y1="207.90" x2="765.64" y2="210.20" stroke="#d3b6c8" stroke-width="1"/><line x1="765.64" y1="215.70" x2="765.64" y2="217.10" stroke="#d3b6c8" stroke-width="1"/><rect x="764.14" y="210.70" width="3.00" height="4.50" fill="#fff" stroke="#d3b6c8" stroke-width="1"/>
<line x1="771.96" y1="202.10" x2="771.96" y2="208.60" stroke="#d3b6c8" stroke-width="1"/><line x1="771.96" y1="214.00" x2="771.96" y2="214.60" stroke="#d3b6c8" stroke-width="1"/><rect x="770.46" y="209.10" width="3.00" height="4.40" fill="#fff" stroke="#d3b6c8" stroke-width="1"/>
<line x1="778.28" y1="189.30" x2="778.28" y2="196.40" stroke="#a5386a" stroke-width="1"/><line x1="778.28" y1="208.70" x2="778.28" y2="213.60" stroke="#a5386a" stroke-width="1"/><rect x="776.78" y="196.90" width="3.00" height="11.30" fill="#fff" stroke="#a5386a" stroke-width="1"/>
<line x1="784.61" y1="182.90" x2="784.61" y2="188.60" stroke="#d3b6c8" stroke-width="1"/><rect x="783.11" y="189.10" width="3.00" height="5.80" fill="#fff" stroke="#d3b6c8" stroke-width="1"/>
<line x1="790.93" y1="185.70" x2="790.93" y2="195.70" stroke="#a5386a" stroke-width="1"/><rect x="789.43" y="161.60" width="3.00" height="23.60" fill="#fff" stroke="#a5386a" stroke-width="1"/>
<line x1="797.25" y1="130.00" x2="797.25" y2="160.60" stroke="#bc6a90" stroke-width="1"/><line x1="795.25" y1="130.00" x2="799.25" y2="130.00" stroke="#bc6a90" stroke-width="1.2"/>
<rect x="802.08" y="95.80" width="3.00" height="15.30" fill="#fff" stroke="#bc6a90" stroke-width="1"/>
<rect x="808.40" y="59.10" width="3.00" height="44.30" fill="#fff" stroke="#bc6a90" stroke-width="1"/>
<line x1="814.22" y1="18.10" x2="818.22" y2="18.10" stroke="#c9659c" stroke-width="1.2"/>
</g>
<g shape-rendering="crispEdges">
<rect x="-1.52" y="409.60" width="4.2" height="2.80" fill="#d3e9df" stroke="#bad8cb" stroke-width="0.6"/>
<rect x="4.80" y="406.10" width="4.2" height="3.50" fill="#e6a8be"/>
<rect x="11.13" y="407.90" width="4.2" height="1.70" fill="#efc9d7"/>
<rect x="17.45" y="409.60" width="4.2" height="1.40" fill="#d3e9df" stroke="#bad8cb" stroke-width="0.6"/>
<rect x="23.77" y="409.60" width="4.2" height="1.40" fill="#d3e9df" stroke="#bad8cb" stroke-width="0.6"/>
<rect x="30.09" y="408.60" width="4.2" height="1.00" fill="#efc9d7"/>
<rect x="36.42" y="409.60" width="4.2" height="1.20" fill="#d3e9df" stroke="#bad8cb" stroke-width="0.6"/>
<rect x="42.74" y="409.00" width="4.2" height="1.20" fill="#f2d9e3"/>
<rect x="49.06" y="409.00" width="4.2" height="1.20" fill="#f2d9e3"/>
<rect x="55.39" y="409.60" width="4.2" height="5.40" fill="#8fcaa2" stroke="#6aa884" stroke-width="0.6"/>
<rect x="61.71" y="409.60" width="4.2" height="1.00" fill="#d3e9df" stroke="#bad8cb" stroke-width="0.6"/>
<rect x="68.03" y="409.60" width="4.2" height="1.20" fill="#d3e9df" stroke="#bad8cb" stroke-width="0.6"/>
<rect x="74.35" y="409.60" width="4.2" height="1.20" fill="#d3e9df" stroke="#bad8cb" stroke-width="0.6"/>
<rect x="80.68" y="409.60" width="4.2" height="1.20" fill="#d3e9df" stroke="#bad8cb" stroke-width="0.6"/>
<rect x="87.00" y="409.60" width="4.2" height="1.20" fill="#d3e9df" stroke="#bad8cb" stroke-width="0.6"/>
<rect x="93.32" y="409.00" width="4.2" height="1.20" fill="#f2d9e3"/>
<rect x="99.64" y="408.10" width="4.2" height="1.50" fill="#efc9d7"/>
<rect x="105.97" y="409.00" width="4.2" height="1.20" fill="#f2d9e3"/>
<rect x="112.29" y="409.00" width="4.2" height="1.20" fill="#f2d9e3"/>
<rect x="118.61" y="409.00" width="4.2" height="1.20" fill="#f2d9e3"/>
<rect x="124.94" y="409.00" width="4.2" height="1.20" fill="#f2d9e3"/>
<rect x="131.26" y="409.60" width="4.2" height="1.00" fill="#d3e9df" stroke="#bad8cb" stroke-width="0.6"/>
<rect x="137.58" y="409.00" width="4.2" height="1.20" fill="#f2d9e3"/>
<rect x="143.90" y="409.00" width="4.2" height="1.20" fill="#f2d9e3"/>
<rect x="150.23" y="408.30" width="4.2" height="1.30" fill="#efc9d7"/>
<rect x="156.55" y="407.10" width="4.2" height="2.50" fill="#e6a8be"/>
<rect x="162.87" y="409.00" width="4.2" height="1.20" fill="#f2d9e3"/>
<rect x="169.20" y="405.30" width="4.2" height="4.30" fill="#e6a8be"/>
<rect x="175.52" y="409.60" width="4.2" height="8.00" fill="#8fcaa2" stroke="#6aa884" stroke-width="0.6"/>
<rect x="181.84" y="409.60" width="4.2" height="1.80" fill="#d3e9df" stroke="#bad8cb" stroke-width="0.6"/>
<rect x="188.16" y="409.00" width="4.2" height="1.20" fill="#f2d9e3"/>
<rect x="194.49" y="409.60" width="4.2" height="1.00" fill="#d3e9df" stroke="#bad8cb" stroke-width="0.6"/>
<rect x="200.81" y="409.00" width="4.2" height="1.20" fill="#f2d9e3"/>
<rect x="207.13" y="408.30" width="4.2" height="1.30" fill="#efc9d7"/>
<rect x="213.46" y="409.60" width="4.2" height="1.40" fill="#d3e9df" stroke="#bad8cb" stroke-width="0.6"/>
<rect x="219.78" y="409.60" width="4.2" height="1.00" fill="#d3e9df" stroke="#bad8cb" stroke-width="0.6"/>
<rect x="226.10" y="409.60" width="4.2" height="1.00" fill="#d3e9df" stroke="#bad8cb" stroke-width="0.6"/>
<rect x="232.42" y="409.60" width="4.2" height="1.00" fill="#d3e9df" stroke="#bad8cb" stroke-width="0.6"/>
<rect x="238.75" y="409.00" width="4.2" height="1.20" fill="#f2d9e3"/>
<rect x="245.07" y="409.60" width="4.2" height="1.00" fill="#d3e9df" stroke="#bad8cb" stroke-width="0.6"/>
<rect x="251.39" y="409.60" width="4.2" height="1.00" fill="#d3e9df" stroke="#bad8cb" stroke-width="0.6"/>
<rect x="257.71" y="409.60" width="4.2" height="1.00" fill="#d3e9df" stroke="#bad8cb" stroke-width="0.6"/>
<rect x="264.04" y="409.00" width="4.2" height="1.20" fill="#f2d9e3"/>
<rect x="270.36" y="409.60" width="4.2" height="1.00" fill="#d3e9df" stroke="#bad8cb" stroke-width="0.6"/>
<rect x="276.68" y="409.00" width="4.2" height="1.20" fill="#f2d9e3"/>
<rect x="283.01" y="409.00" width="4.2" height="1.20" fill="#f2d9e3"/>
<rect x="289.33" y="409.60" width="4.2" height="1.00" fill="#d3e9df" stroke="#bad8cb" stroke-width="0.6"/>
<rect x="295.65" y="409.00" width="4.2" height="1.20" fill="#f2d9e3"/>
<rect x="301.97" y="409.60" width="4.2" height="1.00" fill="#d3e9df" stroke="#bad8cb" stroke-width="0.6"/>
<rect x="308.30" y="409.60" width="4.2" height="1.00" fill="#d3e9df" stroke="#bad8cb" stroke-width="0.6"/>
<rect x="314.62" y="409.00" width="4.2" height="1.20" fill="#f2d9e3"/>
<rect x="320.94" y="409.00" width="4.2" height="1.20" fill="#f2d9e3"/>
<rect x="327.27" y="408.30" width="4.2" height="1.30" fill="#efc9d7"/>
<rect x="333.59" y="409.60" width="4.2" height="1.80" fill="#d3e9df" stroke="#bad8cb" stroke-width="0.6"/>
<rect x="339.91" y="409.00" width="4.2" height="1.20" fill="#f2d9e3"/>
<rect x="346.23" y="408.30" width="4.2" height="1.30" fill="#efc9d7"/>
<rect x="352.56" y="409.00" width="4.2" height="1.20" fill="#f2d9e3"/>
<rect x="358.88" y="395.60" width="4.2" height="14.00" fill="#df8fa9"/>
<rect x="365.20" y="398.40" width="4.2" height="11.20" fill="#df8fa9"/>
<rect x="371.53" y="409.60" width="4.2" height="4.10" fill="#d3e9df" stroke="#bad8cb" stroke-width="0.6"/>
<rect x="377.85" y="405.10" width="4.2" height="4.50" fill="#efc9d7"/>
<rect x="384.17" y="409.60" width="4.2" height="1.00" fill="#d3e9df" stroke="#bad8cb" stroke-width="0.6"/>
<rect x="390.49" y="401.90" width="4.2" height="7.70" fill="#df8fa9"/>
<rect x="396.82" y="399.00" width="4.2" height="10.60" fill="#df8fa9"/>
<rect x="403.14" y="399.90" width="4.2" height="9.70" fill="#df8fa9"/>
<rect x="409.46" y="409.60" width="4.2" height="1.00" fill="#d3e9df" stroke="#bad8cb" stroke-width="0.6"/>
<rect x="415.78" y="405.90" width="4.2" height="3.70" fill="#efc9d7"/>
<rect x="422.11" y="409.60" width="4.2" height="14.50" fill="#8fcaa2" stroke="#6aa884" stroke-width="0.6"/>
<rect x="428.43" y="400.90" width="4.2" height="8.70" fill="#df8fa9"/>
<rect x="434.75" y="400.90" width="4.2" height="8.70" fill="#df8fa9"/>
<rect x="441.08" y="409.60" width="4.2" height="1.00" fill="#d3e9df" stroke="#bad8cb" stroke-width="0.6"/>
<rect x="447.40" y="409.00" width="4.2" height="1.20" fill="#f2d9e3"/>
<rect x="453.72" y="402.70" width="4.2" height="6.90" fill="#efc9d7"/>
<rect x="460.04" y="409.60" width="4.2" height="3.10" fill="#d3e9df" stroke="#bad8cb" stroke-width="0.6"/>
<rect x="466.37" y="409.60" width="4.2" height="1.00" fill="#d3e9df" stroke="#bad8cb" stroke-width="0.6"/>
<rect x="472.69" y="409.60" width="4.2" height="1.00" fill="#d3e9df" stroke="#bad8cb" stroke-width="0.6"/>
<rect x="479.01" y="409.00" width="4.2" height="1.20" fill="#f2d9e3"/>
<rect x="485.34" y="409.60" width="4.2" height="3.70" fill="#d3e9df" stroke="#bad8cb" stroke-width="0.6"/>
<rect x="491.66" y="409.00" width="4.2" height="1.20" fill="#f2d9e3"/>
<rect x="497.98" y="409.60" width="4.2" height="3.70" fill="#d3e9df" stroke="#bad8cb" stroke-width="0.6"/>
<rect x="504.30" y="409.60" width="4.2" height="1.00" fill="#d3e9df" stroke="#bad8cb" stroke-width="0.6"/>
<rect x="510.63" y="409.60" width="4.2" height="1.00" fill="#d3e9df" stroke="#bad8cb" stroke-width="0.6"/>
<rect x="516.95" y="409.00" width="4.2" height="1.20" fill="#f2d9e3"/>
<rect x="523.27" y="409.60" width="4.2" height="1.00" fill="#d3e9df" stroke="#bad8cb" stroke-width="0.6"/>
<rect x="529.60" y="409.00" width="4.2" height="1.20" fill="#f2d9e3"/>
<rect x="535.92" y="409.60" width="4.2" height="1.00" fill="#d3e9df" stroke="#bad8cb" stroke-width="0.6"/>
<rect x="542.24" y="409.60" width="4.2" height="1.00" fill="#d3e9df" stroke="#bad8cb" stroke-width="0.6"/>
<rect x="548.56" y="409.00" width="4.2" height="1.20" fill="#f2d9e3"/>
<rect x="554.89" y="408.30" width="4.2" height="1.30" fill="#efc9d7"/>
<rect x="561.21" y="409.00" width="4.2" height="1.20" fill="#f2d9e3"/>
<rect x="567.53" y="409.00" width="4.2" height="1.20" fill="#f2d9e3"/>
<rect x="573.85" y="409.00" width="4.2" height="1.20" fill="#f2d9e3"/>
<rect x="580.18" y="409.60" width="4.2" height="1.00" fill="#d3e9df" stroke="#bad8cb" stroke-width="0.6"/>
<rect x="586.50" y="409.60" width="4.2" height="1.00" fill="#d3e9df" stroke="#bad8cb" stroke-width="0.6"/>
<rect x="592.82" y="409.60" width="4.2" height="1.00" fill="#d3e9df" stroke="#bad8cb" stroke-width="0.6"/>
<rect x="599.15" y="409.00" width="4.2" height="1.20" fill="#f2d9e3"/>
<rect x="605.47" y="409.00" width="4.2" height="1.20" fill="#f2d9e3"/>
<rect x="611.79" y="409.60" width="4.2" height="1.00" fill="#d3e9df" stroke="#bad8cb" stroke-width="0.6"/>
<rect x="618.11" y="409.60" width="4.2" height="1.00" fill="#d3e9df" stroke="#bad8cb" stroke-width="0.6"/>
<rect x="624.44" y="409.00" width="4.2" height="1.20" fill="#f2d9e3"/>
<rect x="630.76" y="409.00" width="4.2" height="1.20" fill="#f2d9e3"/>
<rect x="637.08" y="409.60" width="4.2" height="3.10" fill="#d3e9df" stroke="#bad8cb" stroke-width="0.6"/>
<rect x="643.41" y="409.60" width="4.2" height="1.00" fill="#d3e9df" stroke="#bad8cb" stroke-width="0.6"/>
<rect x="649.73" y="409.00" width="4.2" height="1.20" fill="#f2d9e3"/>
<rect x="656.05" y="409.00" width="4.2" height="1.20" fill="#f2d9e3"/>
<rect x="662.37" y="409.00" width="4.2" height="1.20" fill="#f2d9e3"/>
<rect x="668.70" y="397.60" width="4.2" height="12.00" fill="#df8fa9"/>
<rect x="675.02" y="389.00" width="4.2" height="20.60" fill="#cf0a3d"/>
<rect x="681.34" y="409.60" width="4.2" height="5.50" fill="#d3e9df" stroke="#bad8cb" stroke-width="0.6"/>
<rect x="687.67" y="398.40" width="4.2" height="11.20" fill="#df8fa9"/>
<rect x="693.99" y="402.70" width="4.2" height="6.90" fill="#efc9d7"/>
<rect x="700.31" y="409.60" width="4.2" height="4.80" fill="#d3e9df" stroke="#bad8cb" stroke-width="0.6"/>
<rect x="706.63" y="409.00" width="4.2" height="1.20" fill="#f2d9e3"/>
<rect x="712.96" y="409.60" width="4.2" height="1.00" fill="#d3e9df" stroke="#bad8cb" stroke-width="0.6"/>
<rect x="719.28" y="409.60" width="4.2" height="3.10" fill="#d3e9df" stroke="#bad8cb" stroke-width="0.6"/>
<rect x="725.60" y="409.60" width="4.2" height="5.50" fill="#d3e9df" stroke="#bad8cb" stroke-width="0.6"/>
<rect x="731.92" y="409.60" width="4.2" height="1.80" fill="#d3e9df" stroke="#bad8cb" stroke-width="0.6"/>
<rect x="738.25" y="409.60" width="4.2" height="3.70" fill="#d3e9df" stroke="#bad8cb" stroke-width="0.6"/>
<rect x="744.57" y="409.60" width="4.2" height="4.80" fill="#d3e9df" stroke="#bad8cb" stroke-width="0.6"/>
<rect x="750.89" y="409.60" width="4.2" height="1.00" fill="#d3e9df" stroke="#bad8cb" stroke-width="0.6"/>
<rect x="757.22" y="408.30" width="4.2" height="1.30" fill="#efc9d7"/>
<rect x="763.54" y="405.10" width="4.2" height="4.50" fill="#efc9d7"/>
<rect x="769.86" y="409.00" width="4.2" height="1.20" fill="#f2d9e3"/>
<rect x="776.18" y="402.70" width="4.2" height="6.90" fill="#efc9d7"/>
<rect x="782.51" y="402.70" width="4.2" height="6.90" fill="#efc9d7"/>
<rect x="788.83" y="395.90" width="4.2" height="13.70" fill="#df8fa9"/>
<rect x="795.15" y="355.70" width="4.2" height="53.90" fill="#cf0a3d"/>
<rect x="801.48" y="363.90" width="4.2" height="45.70" fill="#cf0a3d"/>
<rect x="807.80" y="394.10" width="4.2" height="15.50" fill="#df8fa9"/>
<rect x="814.12" y="405.90" width="4.2" height="3.70" fill="#efc9d7"/>
</g>
<line x1="838.5" y1="0" x2="838.5" y2="334" stroke="#e4e8f0" stroke-width="1"/>
<line x1="839.5" y1="334" x2="839.5" y2="435" stroke="#d3d8e3" stroke-width="1"/>
<line x1="0" y1="334.5" x2="868" y2="334.5" stroke="#d0d3db" stroke-width="1"/>
<line x1="838.5" y1="300.22" x2="843.30" y2="300.22" stroke="#cdd4e2" stroke-width="1"/>
<line x1="838.5" y1="279.21" x2="841.50" y2="279.21" stroke="#cdd4e2" stroke-width="1"/>
<line x1="838.5" y1="258.20" x2="843.30" y2="258.20" stroke="#cdd4e2" stroke-width="1"/>
<line x1="838.5" y1="237.19" x2="841.50" y2="237.19" stroke="#cdd4e2" stroke-width="1"/>
<line x1="838.5" y1="216.18" x2="843.30" y2="216.18" stroke="#cdd4e2" stroke-width="1"/>
<line x1="838.5" y1="195.17" x2="841.50" y2="195.17" stroke="#cdd4e2" stroke-width="1"/>
<line x1="838.5" y1="174.16" x2="843.30" y2="174.16" stroke="#cdd4e2" stroke-width="1"/>
<line x1="838.5" y1="153.15" x2="841.50" y2="153.15" stroke="#cdd4e2" stroke-width="1"/>
<line x1="838.5" y1="132.14" x2="843.30" y2="132.14" stroke="#cdd4e2" stroke-width="1"/>
<line x1="838.5" y1="111.13" x2="841.50" y2="111.13" stroke="#cdd4e2" stroke-width="1"/>
<line x1="838.5" y1="90.12" x2="843.30" y2="90.12" stroke="#cdd4e2" stroke-width="1"/>
<line x1="838.5" y1="69.11" x2="841.50" y2="69.11" stroke="#cdd4e2" stroke-width="1"/>
<line x1="838.5" y1="48.10" x2="843.30" y2="48.10" stroke="#cdd4e2" stroke-width="1"/>
<line x1="839.5" y1="359.30" x2="843.80" y2="359.30" stroke="#cdd4e2" stroke-width="1"/>
<line x1="839.5" y1="371.85" x2="842.00" y2="371.85" stroke="#cdd4e2" stroke-width="1"/>
<line x1="839.5" y1="384.35" x2="843.80" y2="384.35" stroke="#cdd4e2" stroke-width="1"/>
<line x1="839.5" y1="396.90" x2="842.00" y2="396.90" stroke="#cdd4e2" stroke-width="1"/>
<line x1="839.5" y1="409.40" x2="843.80" y2="409.40" stroke="#cdd4e2" stroke-width="1"/>
<line x1="839.5" y1="421.95" x2="842.00" y2="421.95" stroke="#cdd4e2" stroke-width="1"/>
<line x1="839.5" y1="434.50" x2="843.80" y2="434.50" stroke="#cdd4e2" stroke-width="1"/>
<path d="M815.5,2.1 L820.1,6.9 L815.5,11.7 L810.9,6.9 Z" fill="none" stroke="#8a8a8e" stroke-width="1"/>
<rect x="826.5" y="2.5" width="9" height="9" rx="2" fill="none" stroke="#858589" stroke-width="1"/>
<rect x="832" y="4.5" width="2" height="5" fill="#7c7c80"/>
<circle cx="111.3" cy="6.8" r="5.1" fill="#7b7b80"/>
<path d="M109.1,5.8 L111.3,8 L113.5,5.8" fill="none" stroke="#fff" stroke-width="1.1"/>
<circle cx="3.9" cy="341.7" r="4.9" fill="#7b7b80"/>
<path d="M1.8,340.7 L3.9,342.8 L6,340.7" fill="none" stroke="#fff" stroke-width="1.1"/>
</svg>
<div class="t" style="left:0;top:2.5px"><span style="color:#cc3fd1">安记食品</span><span style="color:#3c3c44;margin-left:2px">(日线,前复权)</span></div>
<div class="t" style="left:120px;top:2.5px;color:#3c3c44">千里波涛(1,2)</div>
<div class="t" style="left:-1px;top:20.2px;color:#a3a8ba">【浅色模式】15线谱(2X周期)</div>
<div class="t" style="left:12.5px;top:337.3px;color:#3c3c44">江河横溢(1,2)</div>
<div class="t" style="left:77.5px;top:337.3px;color:#e3b04c">总量_万手: 2.94</div>
<div class="t" style="left:160.5px;top:337.3px;color:#e3b04c">总额_亿元: 0.63</div>
<div class="t" style="left:244px;top:337.3px;color:#a583dc">盈亏系数: 0.28</div>
<div class="ar" style="left:147px;top:336px">↓</div>
<div class="ar" style="left:230.2px;top:336px">↓</div>
<div class="ar" style="left:309.3px;top:336px">↓</div>
<div class="t" style="left:-1px;top:355.6px;color:#a3a8ba">【浅色模式】量价盈亏</div>
<div class="ax" style="left:856.6px;top:294.1px">8.0</div>
<div class="ax" style="left:851.0px;top:252.1px">10.0</div>
<div class="ax" style="left:851.0px;top:210.1px">12.0</div>
<div class="ax" style="left:851.0px;top:168.1px">14.0</div>
<div class="ax" style="left:851.0px;top:126.0px">16.0</div>
<div class="ax" style="left:851.0px;top:84.0px">18.0</div>
<div class="ax" style="left:851.0px;top:42.0px">20.0</div>
<div class="ax" style="left:847.7px;top:354.0px">3000</div>
<div class="ax" style="left:847.6px;top:379.1px">1500</div>
<div class="ax" style="left:856.5px;top:404.1px">0.0</div>
<div class="ax" style="left:843.4px;top:429.2px">-1500</div>
</body></html>
